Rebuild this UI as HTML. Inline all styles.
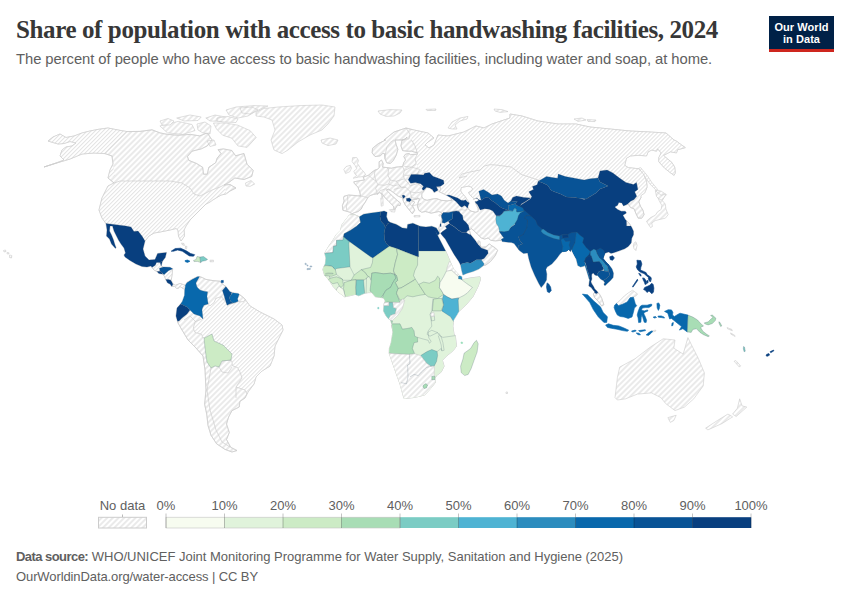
<!DOCTYPE html>
<html><head><meta charset="utf-8">
<style>
html,body{margin:0;padding:0;background:#fff;}
body{width:850px;height:600px;position:relative;overflow:hidden;font-family:"Liberation Sans",sans-serif;}
.abs{position:absolute;white-space:nowrap;}
#title{left:16px;top:15.5px;font-family:"Liberation Serif",serif;font-weight:bold;font-size:25px;line-height:28px;color:#373737;letter-spacing:-0.39px;}
#sub{left:16px;top:49.5px;font-size:14.8px;line-height:18px;color:#606060;letter-spacing:-0.06px;}
#logo{left:769px;top:16px;width:65px;height:36px;background:#002147;}
#logo .bar{position:absolute;left:0;right:0;bottom:0;height:3px;background:#ce261e;}
#logo div.t{position:absolute;left:0;width:65px;text-align:center;color:#fff;font-weight:bold;font-size:11px;line-height:12px;letter-spacing:0.05px;}
#f1{left:16px;top:548.5px;font-size:13px;line-height:16px;color:#606060;letter-spacing:-0.015px;}
#f1 b{letter-spacing:-0.55px;}
#f2{left:16px;top:569px;font-size:13px;line-height:16px;color:#606060;letter-spacing:-0.1px;}
svg{position:absolute;left:0;top:0;}
svg text{font-family:"Liberation Sans",sans-serif;font-size:13px;fill:#606060;}
</style></head><body>
<div id="title" class="abs">Share of population with access to basic handwashing facilities, 2024</div>
<div id="sub" class="abs">The percent of people who have access to basic handwashing facilities, including water and soap, at home.</div>
<div id="logo" class="abs"><div class="t" style="top:5px">Our World</div><div class="t" style="top:17px">in Data</div><div class="bar"></div></div>
<div id="f1" class="abs"><b>Data source:</b> WHO/UNICEF Joint Monitoring Programme for Water Supply, Sanitation and Hygiene (2025)</div>
<div id="f2" class="abs">OurWorldinData.org/water-access | CC BY</div>
<svg width="850" height="600" viewBox="0 0 850 600">
<defs>
<pattern id="h" patternUnits="userSpaceOnUse" width="4" height="4" patternTransform="rotate(45)"><rect width="4" height="4" fill="#fff"/><line x1="2" y1="0" x2="2" y2="4" stroke="#dbdbdb" stroke-width="1.15"/></pattern>
<pattern id="hd" patternUnits="userSpaceOnUse" width="2.83" height="2.83" patternTransform="rotate(45)"><rect width="2.83" height="2.83" fill="#fff"/><line x1="1.4" y1="0" x2="1.4" y2="2.83" stroke="#dbdbdb" stroke-width="0.8"/></pattern>
</defs>
<g id="map" stroke-linejoin="round">
<defs>
<clipPath id="clip-na"><path d="M48.0 141.0 L53.0 137.0 L60.0 134.0 L66.0 137.5 L74.0 136.0 L82.0 133.0 L90.0 131.0 L98.0 129.4 L108.0 128.0 L118.0 130.0 L127.0 131.6 L140.0 131.4 L152.0 129.8 L160.0 132.9 L167.5 134.4 L178.0 135.2 L190.5 134.4 L199.7 135.9 L207.3 132.9 L211.9 139.8 L207.3 145.9 L201.2 148.9 L192.0 151.2 L187.4 156.6 L188.9 160.4 L196.6 163.5 L202.7 167.3 L203.5 174.2 L207.3 174.2 L208.8 167.3 L215.7 162.7 L217.2 158.1 L221.0 153.5 L218.0 149.7 L223.4 148.9 L231.8 150.5 L235.6 155.8 L244.0 153.5 L247.0 164.2 L253.2 170.4 L251.7 176.5 L244.0 179.5 L234.8 178.0 L228.7 182.6 L224.0 185.0 L230.0 184.5 L236.0 188.0 L230.0 191.0 L226.0 194.0 L221.0 195.0 L216.0 198.0 L212.0 200.5 L210.0 202.0 L206.0 204.0 L202.0 208.0 L200.0 210.0 L196.0 214.0 L190.0 220.0 L186.0 226.0 L184.0 230.0 L184.5 236.0 L181.0 241.0 L178.5 236.0 L178.0 230.0 L176.0 228.5 L170.0 230.0 L160.0 232.0 L154.0 233.0 L149.0 236.0 L145.0 241.0 L143.0 249.0 L145.0 256.0 L149.0 260.0 L155.0 259.6 L157.6 253.5 L166.5 252.4 L165.3 257.6 L162.4 261.2 L161.2 265.9 L163.5 267.0 L170.0 267.3 L172.7 268.8 L172.0 275.0 L171.2 280.6 L173.0 284.0 L175.3 285.3 L180.0 283.5 L183.5 284.7 L185.3 285.3 L185.3 287.0 L183.5 288.8 L180.0 286.5 L178.2 288.2 L176.5 288.2 L174.7 286.5 L171.8 286.5 L170.0 284.0 L167.6 283.0 L166.0 280.0 L164.0 275.3 L161.8 274.0 L158.8 273.5 L157.0 271.5 L154.0 270.0 L153.0 269.0 L151.0 266.0 L147.0 267.0 L142.0 266.5 L136.0 264.0 L130.0 260.5 L125.0 257.0 L124.0 255.0 L125.5 253.0 L124.0 248.0 L121.0 244.0 L118.5 240.0 L116.5 236.0 L114.0 231.0 L112.5 226.0 L110.0 226.0 L109.5 231.0 L111.5 235.0 L113.5 240.0 L115.0 245.0 L116.0 247.5 L115.5 248.4 L111.5 244.0 L109.5 239.0 L106.5 236.0 L107.0 230.0 L106.0 223.6 L102.0 218.0 L99.0 210.0 L102.0 198.0 L108.0 186.0 L114.0 183.0 L108.0 178.0 L110.0 170.0 L113.0 164.0 L112.0 156.0 L105.0 153.6 L94.0 153.0 L82.0 154.0 L70.0 159.0 L60.0 162.0 L44.0 167.0 L56.0 163.0 L64.0 160.0 L60.0 156.0 L62.0 150.0 L66.0 147.0 L72.0 146.0 L76.0 143.0 L70.0 141.5 L64.0 143.5 L58.0 144.0Z" clip-rule="evenodd"/></clipPath>
<clipPath id="clip-sa"><path d="M185.3 285.3 L187.0 282.4 L191.8 279.4 L197.6 276.5 L199.8 276.7 L202.4 277.6 L205.9 279.4 L213.0 280.6 L220.0 281.2 L222.4 284.0 L225.9 286.5 L230.0 291.8 L234.0 293.0 L238.2 293.5 L244.0 298.0 L250.0 306.0 L260.0 312.0 L274.0 319.0 L282.0 325.0 L283.0 330.0 L279.0 338.0 L275.0 346.0 L274.0 356.0 L270.0 366.0 L262.0 371.0 L256.0 377.0 L254.0 384.0 L248.0 392.0 L245.0 398.0 L239.9 401.4 L239.2 407.0 L232.0 410.6 L228.6 417.0 L226.5 424.0 L229.3 432.5 L226.5 439.5 L230.7 447.3 L237.0 450.5 L232.0 452.0 L225.0 449.4 L216.6 443.8 L211.0 435.3 L208.0 425.4 L206.7 414.0 L204.6 404.2 L206.0 390.0 L205.0 370.0 L203.0 356.0 L196.0 348.0 L188.0 340.0 L182.0 330.0 L178.0 323.0 L176.0 316.0 L177.0 308.0 L180.6 304.0 L182.4 301.2 L184.5 295.3 L184.7 289.4 L185.3 287.0Z" clip-rule="evenodd"/></clipPath>
<clipPath id="clip-af"><path d="M349.4 215.0 L354.1 214.4 L359.4 216.8 L363.5 214.2 L369.4 213.2 L376.5 212.3 L380.6 211.8 L384.1 211.1 L387.1 212.3 L386.5 216.8 L388.2 220.9 L390.6 222.6 L396.5 224.4 L402.4 227.9 L407.1 228.5 L407.6 224.4 L412.9 223.2 L418.2 225.6 L420.0 226.2 L425.9 227.0 L431.8 226.2 L436.5 227.9 L439.8 233.2 L437.6 235.8 L435.1 230.6 L445.3 250.3 L448.2 256.8 L450.6 262.6 L453.5 269.1 L459.4 275.4 L461.8 276.8 L462.1 279.7 L470.6 277.9 L480.0 276.8 L480.6 279.1 L478.2 286.2 L472.9 296.8 L465.9 305.0 L458.8 311.5 L456.5 315.6 L453.5 320.3 L452.9 326.2 L454.1 335.0 L455.3 335.6 L456.5 346.2 L452.9 350.9 L447.1 355.6 L442.4 360.3 L444.1 366.2 L441.2 372.1 L436.5 375.6 L435.3 377.9 L435.3 382.6 L430.6 388.5 L424.7 395.0 L414.0 397.5 L404.0 398.5 L400.0 384.0 L395.0 370.0 L389.2 353.2 L389.4 348.5 L391.2 342.6 L392.9 332.1 L391.8 325.0 L392.9 330.9 L391.8 323.8 L390.6 320.3 L388.2 318.5 L385.9 315.6 L383.5 310.9 L384.1 303.8 L385.3 300.9 L383.5 297.9 L380.0 297.4 L375.3 296.8 L371.8 292.6 L368.2 292.6 L364.7 293.2 L358.8 295.8 L355.3 294.4 L350.6 295.6 L344.7 296.8 L337.6 291.5 L332.9 286.2 L330.0 281.5 L327.1 277.9 L324.7 275.6 L322.9 269.7 L323.5 267.4 L325.3 263.8 L325.9 257.9 L324.7 253.2 L328.8 246.2 L332.9 240.3 L336.5 234.4 L340.6 230.3 L341.8 225.0 L345.3 220.3Z" clip-rule="evenodd"/></clipPath>
<clipPath id="clip-ea"><path d="M439.7 232.6 L438.8 228.2 L439.7 225.6 L440.8 222.6 L441.6 219.7 L441.4 215.0 L441.8 213.8 L440.6 212.1 L438.8 211.5 L435.3 212.3 L431.2 213.2 L427.6 212.1 L425.3 211.5 L421.8 212.3 L418.8 210.3 L417.4 206.2 L418.2 202.1 L419.4 199.7 L418.8 198.5 L417.6 197.9 L417.1 199.1 L411.2 200.3 L414.7 202.1 L412.4 205.6 L414.7 210.3 L412.4 213.8 L407.6 207.9 L405.3 205.0 L403.5 201.5 L402.4 197.9 L398.2 196.2 L393.5 192.6 L388.8 189.1 L386.5 190.1 L391.2 195.0 L397.1 200.3 L400.6 203.2 L400.0 205.6 L397.6 205.0 L395.9 207.9 L394.1 210.3 L393.5 206.2 L388.8 201.5 L385.3 197.9 L381.8 193.8 L379.4 192.6 L377.1 193.8 L373.5 194.4 L370.0 195.6 L367.6 197.9 L365.3 202.1 L362.9 205.6 L361.2 209.1 L358.2 211.5 L354.7 212.6 L351.8 213.8 L349.4 212.1 L345.3 210.9 L342.9 210.3 L342.4 205.6 L344.1 200.9 L343.5 197.9 L344.1 196.2 L348.8 195.0 L355.9 195.6 L360.6 196.2 L359.7 191.8 L357.9 187.1 L354.4 183.5 L353.8 181.8 L360.3 180.6 L364.4 180.0 L363.2 177.1 L368.5 175.3 L370.9 172.9 L375.0 170.0 L377.4 169.4 L379.1 167.6 L379.1 161.8 L381.5 160.0 L383.2 163.5 L382.6 167.1 L386.8 167.6 L391.5 168.2 L396.2 167.1 L402.6 166.5 L403.8 162.4 L405.6 160.0 L403.8 156.5 L405.6 154.1 L409.1 153.5 L410.3 154.7 L417.4 154.1 L417.4 152.9 L411.5 151.2 L406.8 151.2 L402.6 150.6 L400.9 145.9 L402.1 140.0 L405.0 139.0 L407.0 137.0 L404.4 140.0 L395.0 140.0 L396.2 144.7 L397.9 149.4 L396.2 155.3 L393.2 160.6 L390.3 163.5 L386.8 162.9 L385.0 158.8 L384.4 153.5 L382.6 153.5 L380.3 155.9 L375.0 156.5 L372.1 152.9 L372.6 148.2 L378.5 143.5 L385.6 140.0 L384.0 140.0 L394.0 132.0 L406.0 128.0 L414.0 130.0 L428.0 133.0 L434.0 138.0 L428.0 142.0 L425.0 145.0 L429.0 148.0 L434.0 145.0 L436.0 140.0 L438.0 135.0 L448.0 136.0 L464.0 132.0 L476.0 126.0 L484.0 128.0 L492.0 124.0 L510.0 118.0 L510.0 114.0 L522.0 116.0 L538.0 121.0 L558.0 124.0 L576.0 124.0 L590.0 127.0 L610.0 129.0 L630.0 131.0 L650.0 132.0 L666.0 133.0 L674.0 140.0 L676.5 141.2 L681.2 144.7 L685.3 147.6 L682.4 148.5 L677.6 149.6 L676.5 152.9 L670.6 151.8 L663.5 155.3 L665.9 157.6 L671.8 162.4 L674.7 167.1 L675.3 172.9 L674.1 175.3 L670.6 172.9 L664.7 168.2 L658.8 161.8 L658.8 157.6 L661.2 152.9 L657.6 148.8 L656.5 151.2 L651.8 150.0 L648.2 151.8 L646.5 155.9 L638.8 155.3 L630.6 155.9 L626.5 158.2 L624.7 165.3 L628.2 167.6 L638.8 168.8 L643.5 174.1 L646.5 181.2 L647.1 187.1 L644.7 192.9 L640.6 195.9 L641.2 197.1 L638.8 201.8 L640.6 206.5 L642.9 210.0 L644.1 214.7 L641.8 218.2 L638.2 218.2 L635.9 213.5 L634.1 208.8 L630.6 207.6 L628.2 204.1 L623.5 205.9 L621.8 202.9 L618.8 202.4 L617.6 205.3 L614.7 207.1 L617.6 209.4 L621.2 211.2 L625.3 211.2 L626.5 212.9 L622.9 215.3 L625.3 219.4 L629.4 223.5 L631.8 227.6 L633.5 231.2 L633.5 234.7 L631.8 238.2 L631.2 242.9 L628.2 246.5 L624.7 248.8 L620.0 250.6 L616.5 251.8 L612.9 252.9 L610.9 253.2 L608.5 252.1 L605.0 253.2 L603.2 258.5 L606.1 262.1 L609.6 265.6 L612.1 269.1 L613.5 273.3 L613.1 277.6 L610.3 280.8 L607.5 283.2 L605.0 285.7 L603.9 284.6 L604.6 282.5 L603.2 280.4 L600.8 279.3 L599.0 277.2 L597.6 275.5 L596.5 275.5 L594.8 275.1 L593.7 273.3 L591.9 273.7 L591.6 276.2 L591.9 279.0 L590.9 281.8 L591.9 283.9 L593.3 286.1 L594.8 288.9 L596.9 291.0 L597.9 292.4 L599.7 294.5 L601.1 297.0 L601.8 298.4 L603.9 304.7 L601.8 306.1 L598.2 301.2 L594.7 297.6 L593.3 294.1 L594.8 292.1 L593.0 289.9 L591.2 287.5 L588.8 286.1 L589.1 283.2 L589.8 279.7 L589.1 279.0 L588.1 275.5 L587.0 271.9 L585.9 268.4 L584.9 265.6 L583.5 266.3 L580.6 267.0 L577.8 265.6 L577.4 263.8 L576.2 259.1 L573.2 253.2 L570.9 248.5 L570.6 251.8 L568.8 249.4 L566.5 251.2 L562.4 251.8 L560.0 254.1 L556.5 258.8 L551.8 264.1 L547.1 267.1 L545.9 269.4 L546.8 274.1 L546.5 280.0 L544.1 284.1 L541.2 287.6 L538.8 283.5 L534.7 275.3 L531.2 267.1 L528.8 258.8 L527.6 252.9 L523.5 253.5 L519.4 250.6 L514.1 243.5 L511.5 242.6 L502.1 241.5 L501.5 239.1 L501.2 240.3 L495.3 240.9 L490.6 240.3 L488.2 237.9 L484.7 239.1 L481.2 237.9 L477.6 234.4 L474.1 230.9 L471.2 228.5 L469.4 230.3 L470.6 234.4 L475.3 240.3 L477.6 243.8 L478.2 240.9 L480.0 241.5 L480.0 244.4 L481.2 247.4 L485.9 246.8 L489.4 243.8 L490.6 245.0 L495.3 247.9 L497.6 250.3 L495.3 255.6 L490.6 261.5 L485.9 265.0 L483.5 265.6 L478.8 269.1 L472.9 271.5 L467.1 273.2 L462.9 275.0 L461.8 270.9 L460.6 265.0 L458.8 261.5 L454.1 254.4 L449.4 246.2 L445.3 239.1 L441.8 235.0 L440.6 233.2ZM421.8 193.8 L424.7 190.3 L426.5 187.4 L429.4 187.9 L432.4 189.7 L434.1 192.6 L438.2 190.3 L436.5 186.8 L440.6 187.4 L440.6 190.3 L438.8 191.5 L442.4 193.2 L447.1 195.6 L450.6 197.9 L451.8 200.3 L447.1 200.9 L441.2 200.3 L436.5 198.5 L431.8 199.1 L427.1 200.3 L423.5 199.1 L421.8 196.8ZM461.2 187.6 L464.0 186.9 L468.2 186.2 L471.1 186.9 L472.8 189.0 L471.1 191.1 L468.6 192.4 L469.6 194.5 L472.1 196.8 L474.2 198.9 L473.7 199.5 L475.3 198.3 L477.4 198.5 L478.7 200.2 L476.7 201.6 L475.1 201.4 L475.6 203.3 L476.7 205.5 L478.1 208.6 L478.1 211.5 L475.3 212.2 L471.1 211.1 L468.2 209.0 L467.9 206.2 L469.3 203.1 L467.5 200.2 L465.1 196.6 L462.6 193.8 L460.6 191.0Z" clip-rule="evenodd"/></clipPath>
</defs>
<path d="M48.0 141.0 L53.0 137.0 L60.0 134.0 L66.0 137.5 L74.0 136.0 L82.0 133.0 L90.0 131.0 L98.0 129.4 L108.0 128.0 L118.0 130.0 L127.0 131.6 L140.0 131.4 L152.0 129.8 L160.0 132.9 L167.5 134.4 L178.0 135.2 L190.5 134.4 L199.7 135.9 L207.3 132.9 L211.9 139.8 L207.3 145.9 L201.2 148.9 L192.0 151.2 L187.4 156.6 L188.9 160.4 L196.6 163.5 L202.7 167.3 L203.5 174.2 L207.3 174.2 L208.8 167.3 L215.7 162.7 L217.2 158.1 L221.0 153.5 L218.0 149.7 L223.4 148.9 L231.8 150.5 L235.6 155.8 L244.0 153.5 L247.0 164.2 L253.2 170.4 L251.7 176.5 L244.0 179.5 L234.8 178.0 L228.7 182.6 L224.0 185.0 L230.0 184.5 L236.0 188.0 L230.0 191.0 L226.0 194.0 L221.0 195.0 L216.0 198.0 L212.0 200.5 L210.0 202.0 L206.0 204.0 L202.0 208.0 L200.0 210.0 L196.0 214.0 L190.0 220.0 L186.0 226.0 L184.0 230.0 L184.5 236.0 L181.0 241.0 L178.5 236.0 L178.0 230.0 L176.0 228.5 L170.0 230.0 L160.0 232.0 L154.0 233.0 L149.0 236.0 L145.0 241.0 L143.0 249.0 L145.0 256.0 L149.0 260.0 L155.0 259.6 L157.6 253.5 L166.5 252.4 L165.3 257.6 L162.4 261.2 L161.2 265.9 L163.5 267.0 L170.0 267.3 L172.7 268.8 L172.0 275.0 L171.2 280.6 L173.0 284.0 L175.3 285.3 L180.0 283.5 L183.5 284.7 L185.3 285.3 L185.3 287.0 L183.5 288.8 L180.0 286.5 L178.2 288.2 L176.5 288.2 L174.7 286.5 L171.8 286.5 L170.0 284.0 L167.6 283.0 L166.0 280.0 L164.0 275.3 L161.8 274.0 L158.8 273.5 L157.0 271.5 L154.0 270.0 L153.0 269.0 L151.0 266.0 L147.0 267.0 L142.0 266.5 L136.0 264.0 L130.0 260.5 L125.0 257.0 L124.0 255.0 L125.5 253.0 L124.0 248.0 L121.0 244.0 L118.5 240.0 L116.5 236.0 L114.0 231.0 L112.5 226.0 L110.0 226.0 L109.5 231.0 L111.5 235.0 L113.5 240.0 L115.0 245.0 L116.0 247.5 L115.5 248.4 L111.5 244.0 L109.5 239.0 L106.5 236.0 L107.0 230.0 L106.0 223.6 L102.0 218.0 L99.0 210.0 L102.0 198.0 L108.0 186.0 L114.0 183.0 L108.0 178.0 L110.0 170.0 L113.0 164.0 L112.0 156.0 L105.0 153.6 L94.0 153.0 L82.0 154.0 L70.0 159.0 L60.0 162.0 L44.0 167.0 L56.0 163.0 L64.0 160.0 L60.0 156.0 L62.0 150.0 L66.0 147.0 L72.0 146.0 L76.0 143.0 L70.0 141.5 L64.0 143.5 L58.0 144.0Z" fill="url(#h)" fill-rule="evenodd" stroke="#cbcbcb" stroke-width="0.6"/>
<path d="M185.3 285.3 L187.0 282.4 L191.8 279.4 L197.6 276.5 L199.8 276.7 L202.4 277.6 L205.9 279.4 L213.0 280.6 L220.0 281.2 L222.4 284.0 L225.9 286.5 L230.0 291.8 L234.0 293.0 L238.2 293.5 L244.0 298.0 L250.0 306.0 L260.0 312.0 L274.0 319.0 L282.0 325.0 L283.0 330.0 L279.0 338.0 L275.0 346.0 L274.0 356.0 L270.0 366.0 L262.0 371.0 L256.0 377.0 L254.0 384.0 L248.0 392.0 L245.0 398.0 L239.9 401.4 L239.2 407.0 L232.0 410.6 L228.6 417.0 L226.5 424.0 L229.3 432.5 L226.5 439.5 L230.7 447.3 L237.0 450.5 L232.0 452.0 L225.0 449.4 L216.6 443.8 L211.0 435.3 L208.0 425.4 L206.7 414.0 L204.6 404.2 L206.0 390.0 L205.0 370.0 L203.0 356.0 L196.0 348.0 L188.0 340.0 L182.0 330.0 L178.0 323.0 L176.0 316.0 L177.0 308.0 L180.6 304.0 L182.4 301.2 L184.5 295.3 L184.7 289.4 L185.3 287.0Z" fill="url(#h)" fill-rule="evenodd" stroke="#cbcbcb" stroke-width="0.6"/>
<path d="M349.4 215.0 L354.1 214.4 L359.4 216.8 L363.5 214.2 L369.4 213.2 L376.5 212.3 L380.6 211.8 L384.1 211.1 L387.1 212.3 L386.5 216.8 L388.2 220.9 L390.6 222.6 L396.5 224.4 L402.4 227.9 L407.1 228.5 L407.6 224.4 L412.9 223.2 L418.2 225.6 L420.0 226.2 L425.9 227.0 L431.8 226.2 L436.5 227.9 L439.8 233.2 L437.6 235.8 L435.1 230.6 L445.3 250.3 L448.2 256.8 L450.6 262.6 L453.5 269.1 L459.4 275.4 L461.8 276.8 L462.1 279.7 L470.6 277.9 L480.0 276.8 L480.6 279.1 L478.2 286.2 L472.9 296.8 L465.9 305.0 L458.8 311.5 L456.5 315.6 L453.5 320.3 L452.9 326.2 L454.1 335.0 L455.3 335.6 L456.5 346.2 L452.9 350.9 L447.1 355.6 L442.4 360.3 L444.1 366.2 L441.2 372.1 L436.5 375.6 L435.3 377.9 L435.3 382.6 L430.6 388.5 L424.7 395.0 L414.0 397.5 L404.0 398.5 L400.0 384.0 L395.0 370.0 L389.2 353.2 L389.4 348.5 L391.2 342.6 L392.9 332.1 L391.8 325.0 L392.9 330.9 L391.8 323.8 L390.6 320.3 L388.2 318.5 L385.9 315.6 L383.5 310.9 L384.1 303.8 L385.3 300.9 L383.5 297.9 L380.0 297.4 L375.3 296.8 L371.8 292.6 L368.2 292.6 L364.7 293.2 L358.8 295.8 L355.3 294.4 L350.6 295.6 L344.7 296.8 L337.6 291.5 L332.9 286.2 L330.0 281.5 L327.1 277.9 L324.7 275.6 L322.9 269.7 L323.5 267.4 L325.3 263.8 L325.9 257.9 L324.7 253.2 L328.8 246.2 L332.9 240.3 L336.5 234.4 L340.6 230.3 L341.8 225.0 L345.3 220.3Z" fill="url(#h)" fill-rule="evenodd" stroke="#cbcbcb" stroke-width="0.6"/>
<path d="M439.7 232.6 L438.8 228.2 L439.7 225.6 L440.8 222.6 L441.6 219.7 L441.4 215.0 L441.8 213.8 L440.6 212.1 L438.8 211.5 L435.3 212.3 L431.2 213.2 L427.6 212.1 L425.3 211.5 L421.8 212.3 L418.8 210.3 L417.4 206.2 L418.2 202.1 L419.4 199.7 L418.8 198.5 L417.6 197.9 L417.1 199.1 L411.2 200.3 L414.7 202.1 L412.4 205.6 L414.7 210.3 L412.4 213.8 L407.6 207.9 L405.3 205.0 L403.5 201.5 L402.4 197.9 L398.2 196.2 L393.5 192.6 L388.8 189.1 L386.5 190.1 L391.2 195.0 L397.1 200.3 L400.6 203.2 L400.0 205.6 L397.6 205.0 L395.9 207.9 L394.1 210.3 L393.5 206.2 L388.8 201.5 L385.3 197.9 L381.8 193.8 L379.4 192.6 L377.1 193.8 L373.5 194.4 L370.0 195.6 L367.6 197.9 L365.3 202.1 L362.9 205.6 L361.2 209.1 L358.2 211.5 L354.7 212.6 L351.8 213.8 L349.4 212.1 L345.3 210.9 L342.9 210.3 L342.4 205.6 L344.1 200.9 L343.5 197.9 L344.1 196.2 L348.8 195.0 L355.9 195.6 L360.6 196.2 L359.7 191.8 L357.9 187.1 L354.4 183.5 L353.8 181.8 L360.3 180.6 L364.4 180.0 L363.2 177.1 L368.5 175.3 L370.9 172.9 L375.0 170.0 L377.4 169.4 L379.1 167.6 L379.1 161.8 L381.5 160.0 L383.2 163.5 L382.6 167.1 L386.8 167.6 L391.5 168.2 L396.2 167.1 L402.6 166.5 L403.8 162.4 L405.6 160.0 L403.8 156.5 L405.6 154.1 L409.1 153.5 L410.3 154.7 L417.4 154.1 L417.4 152.9 L411.5 151.2 L406.8 151.2 L402.6 150.6 L400.9 145.9 L402.1 140.0 L405.0 139.0 L407.0 137.0 L404.4 140.0 L395.0 140.0 L396.2 144.7 L397.9 149.4 L396.2 155.3 L393.2 160.6 L390.3 163.5 L386.8 162.9 L385.0 158.8 L384.4 153.5 L382.6 153.5 L380.3 155.9 L375.0 156.5 L372.1 152.9 L372.6 148.2 L378.5 143.5 L385.6 140.0 L384.0 140.0 L394.0 132.0 L406.0 128.0 L414.0 130.0 L428.0 133.0 L434.0 138.0 L428.0 142.0 L425.0 145.0 L429.0 148.0 L434.0 145.0 L436.0 140.0 L438.0 135.0 L448.0 136.0 L464.0 132.0 L476.0 126.0 L484.0 128.0 L492.0 124.0 L510.0 118.0 L510.0 114.0 L522.0 116.0 L538.0 121.0 L558.0 124.0 L576.0 124.0 L590.0 127.0 L610.0 129.0 L630.0 131.0 L650.0 132.0 L666.0 133.0 L674.0 140.0 L676.5 141.2 L681.2 144.7 L685.3 147.6 L682.4 148.5 L677.6 149.6 L676.5 152.9 L670.6 151.8 L663.5 155.3 L665.9 157.6 L671.8 162.4 L674.7 167.1 L675.3 172.9 L674.1 175.3 L670.6 172.9 L664.7 168.2 L658.8 161.8 L658.8 157.6 L661.2 152.9 L657.6 148.8 L656.5 151.2 L651.8 150.0 L648.2 151.8 L646.5 155.9 L638.8 155.3 L630.6 155.9 L626.5 158.2 L624.7 165.3 L628.2 167.6 L638.8 168.8 L643.5 174.1 L646.5 181.2 L647.1 187.1 L644.7 192.9 L640.6 195.9 L641.2 197.1 L638.8 201.8 L640.6 206.5 L642.9 210.0 L644.1 214.7 L641.8 218.2 L638.2 218.2 L635.9 213.5 L634.1 208.8 L630.6 207.6 L628.2 204.1 L623.5 205.9 L621.8 202.9 L618.8 202.4 L617.6 205.3 L614.7 207.1 L617.6 209.4 L621.2 211.2 L625.3 211.2 L626.5 212.9 L622.9 215.3 L625.3 219.4 L629.4 223.5 L631.8 227.6 L633.5 231.2 L633.5 234.7 L631.8 238.2 L631.2 242.9 L628.2 246.5 L624.7 248.8 L620.0 250.6 L616.5 251.8 L612.9 252.9 L610.9 253.2 L608.5 252.1 L605.0 253.2 L603.2 258.5 L606.1 262.1 L609.6 265.6 L612.1 269.1 L613.5 273.3 L613.1 277.6 L610.3 280.8 L607.5 283.2 L605.0 285.7 L603.9 284.6 L604.6 282.5 L603.2 280.4 L600.8 279.3 L599.0 277.2 L597.6 275.5 L596.5 275.5 L594.8 275.1 L593.7 273.3 L591.9 273.7 L591.6 276.2 L591.9 279.0 L590.9 281.8 L591.9 283.9 L593.3 286.1 L594.8 288.9 L596.9 291.0 L597.9 292.4 L599.7 294.5 L601.1 297.0 L601.8 298.4 L603.9 304.7 L601.8 306.1 L598.2 301.2 L594.7 297.6 L593.3 294.1 L594.8 292.1 L593.0 289.9 L591.2 287.5 L588.8 286.1 L589.1 283.2 L589.8 279.7 L589.1 279.0 L588.1 275.5 L587.0 271.9 L585.9 268.4 L584.9 265.6 L583.5 266.3 L580.6 267.0 L577.8 265.6 L577.4 263.8 L576.2 259.1 L573.2 253.2 L570.9 248.5 L570.6 251.8 L568.8 249.4 L566.5 251.2 L562.4 251.8 L560.0 254.1 L556.5 258.8 L551.8 264.1 L547.1 267.1 L545.9 269.4 L546.8 274.1 L546.5 280.0 L544.1 284.1 L541.2 287.6 L538.8 283.5 L534.7 275.3 L531.2 267.1 L528.8 258.8 L527.6 252.9 L523.5 253.5 L519.4 250.6 L514.1 243.5 L511.5 242.6 L502.1 241.5 L501.5 239.1 L501.2 240.3 L495.3 240.9 L490.6 240.3 L488.2 237.9 L484.7 239.1 L481.2 237.9 L477.6 234.4 L474.1 230.9 L471.2 228.5 L469.4 230.3 L470.6 234.4 L475.3 240.3 L477.6 243.8 L478.2 240.9 L480.0 241.5 L480.0 244.4 L481.2 247.4 L485.9 246.8 L489.4 243.8 L490.6 245.0 L495.3 247.9 L497.6 250.3 L495.3 255.6 L490.6 261.5 L485.9 265.0 L483.5 265.6 L478.8 269.1 L472.9 271.5 L467.1 273.2 L462.9 275.0 L461.8 270.9 L460.6 265.0 L458.8 261.5 L454.1 254.4 L449.4 246.2 L445.3 239.1 L441.8 235.0 L440.6 233.2ZM421.8 193.8 L424.7 190.3 L426.5 187.4 L429.4 187.9 L432.4 189.7 L434.1 192.6 L438.2 190.3 L436.5 186.8 L440.6 187.4 L440.6 190.3 L438.8 191.5 L442.4 193.2 L447.1 195.6 L450.6 197.9 L451.8 200.3 L447.1 200.9 L441.2 200.3 L436.5 198.5 L431.8 199.1 L427.1 200.3 L423.5 199.1 L421.8 196.8ZM461.2 187.6 L464.0 186.9 L468.2 186.2 L471.1 186.9 L472.8 189.0 L471.1 191.1 L468.6 192.4 L469.6 194.5 L472.1 196.8 L474.2 198.9 L473.7 199.5 L475.3 198.3 L477.4 198.5 L478.7 200.2 L476.7 201.6 L475.1 201.4 L475.6 203.3 L476.7 205.5 L478.1 208.6 L478.1 211.5 L475.3 212.2 L471.1 211.1 L468.2 209.0 L467.9 206.2 L469.3 203.1 L467.5 200.2 L465.1 196.6 L462.6 193.8 L460.6 191.0Z" fill="url(#h)" fill-rule="evenodd" stroke="#cbcbcb" stroke-width="0.6"/>
<path d="M256.0 112.0 L264.0 108.5 L278.0 107.0 L300.0 105.6 L322.0 105.0 L335.0 107.0 L334.0 116.0 L328.0 124.0 L322.0 130.0 L310.0 135.0 L298.0 142.0 L288.0 150.0 L282.0 153.6 L274.0 150.0 L271.0 140.0 L275.0 130.0 L272.0 120.0 L264.0 117.0 L256.0 116.0Z" fill="url(#h)" stroke="#cbcbcb" stroke-width="0.6"/>
<path d="M321.0 140.0 L330.0 138.0 L338.0 140.0 L336.0 144.0 L328.0 145.6 L322.0 143.0Z" fill="url(#h)" stroke="#cbcbcb" stroke-width="0.6"/>
<path d="M226.0 110.0 L236.0 107.0 L254.0 105.6 L268.0 106.0 L256.0 111.0 L248.0 116.0 L238.0 118.0 L229.0 115.0Z" fill="url(#h)" stroke="#cbcbcb" stroke-width="0.6"/>
<path d="M213.4 123.0 L225.7 123.0 L237.9 125.2 L250.1 130.6 L256.2 137.5 L247.1 147.4 L237.9 145.9 L231.8 138.2 L222.6 135.2 L216.5 129.0Z" fill="url(#h)" stroke="#cbcbcb" stroke-width="0.6"/>
<path d="M159.9 126.0 L178.2 121.4 L192.0 124.5 L195.0 130.6 L182.8 134.4 L167.5 132.9Z" fill="url(#h)" stroke="#cbcbcb" stroke-width="0.6"/>
<path d="M176.7 118.0 L190.0 115.0 L201.2 117.0 L198.0 120.5 L184.0 121.0Z" fill="url(#h)" stroke="#cbcbcb" stroke-width="0.6"/>
<path d="M205.8 118.0 L215.0 115.0 L225.7 117.0 L222.0 121.4 L210.0 121.0Z" fill="url(#h)" stroke="#cbcbcb" stroke-width="0.6"/>
<path d="M245.5 183.0 L251.0 180.5 L254.7 184.0 L250.0 186.4 L246.0 186.0Z" fill="url(#h)" stroke="#cbcbcb" stroke-width="0.6"/>
<path d="M207.0 141.0 L214.0 140.0 L216.0 145.0 L210.0 146.5Z" fill="url(#h)" stroke="#cbcbcb" stroke-width="0.6"/>
<path d="M210.0 260.2 L213.5 260.2 L213.5 261.8 L210.0 261.8Z" fill="url(#h)" stroke="#cbcbcb" stroke-width="0.6"/>
<path d="M634.1 242.9 L635.9 241.8 L637.1 245.3 L635.9 250.6 L634.1 248.8 L633.3 245.9Z" fill="url(#h)" stroke="#cbcbcb" stroke-width="0.6"/>
<path d="M655.9 190.0 L661.2 191.2 L666.5 194.7 L664.1 197.1 L662.4 200.6 L665.3 204.1 L665.9 208.8 L668.2 214.7 L665.3 218.2 L660.0 219.4 L655.3 220.6 L651.8 222.9 L652.4 226.5 L650.6 227.6 L648.2 224.1 L646.5 221.2 L650.6 217.6 L655.3 215.3 L657.6 211.8 L661.2 209.4 L661.8 205.3 L659.4 201.2 L657.6 197.1 L656.5 193.5Z" fill="url(#h)" stroke="#cbcbcb" stroke-width="0.6"/>
<path d="M655.3 190.6 L661.2 195.3 L665.9 194.1 L664.1 197.6 L661.2 200.0 L658.8 198.8 L656.5 196.5Z" fill="url(#h)" stroke="#cbcbcb" stroke-width="0.6"/>
<path d="M638.8 168.2 L640.6 167.6 L647.1 175.3 L651.8 182.4 L657.6 189.4 L656.5 190.6 L650.6 184.7 L645.3 177.6Z" fill="url(#hd)" stroke="#cbcbcb" stroke-width="0.6"/>
<path d="M651.6 331.1 L655.5 330.0 L656.0 330.9 L652.7 332.1Z" fill="url(#h)" stroke="#cbcbcb" stroke-width="0.6"/>
<path d="M618.4 305.7 L616.5 303.4 L619.8 300.5 L624.5 295.8 L628.2 293.0 L632.5 290.2 L637.6 293.9 L636.2 295.8 L633.4 297.2 L630.1 297.7 L627.3 301.9 L622.6 304.3Z" fill="url(#h)" stroke="#cbcbcb" stroke-width="0.6"/>
<path d="M734.1 361.2 L735.9 360.6 L740.6 365.9 L739.4 367.1Z" fill="url(#h)" stroke="#cbcbcb" stroke-width="0.6"/>
<path d="M727.1 327.6 L731.8 329.4 L732.4 330.8 L727.6 328.8Z" fill="url(#h)" stroke="#cbcbcb" stroke-width="0.6"/>
<path d="M730.6 332.9 L734.7 335.3 L735.1 336.5 L730.8 334.1Z" fill="url(#h)" stroke="#cbcbcb" stroke-width="0.6"/>
<path d="M352.6 157.6 L356.8 157.6 L358.5 160.6 L357.4 163.5 L361.5 169.4 L364.4 172.4 L365.6 174.7 L363.2 176.5 L358.5 177.1 L353.2 178.2 L356.8 175.3 L355.0 174.1 L353.8 171.2 L356.8 168.8 L355.0 165.3 L352.1 161.8Z" fill="url(#h)" stroke="#cbcbcb" stroke-width="0.6"/>
<path d="M343.8 169.4 L346.2 166.5 L350.3 165.3 L351.5 168.2 L349.7 171.8 L345.6 173.5Z" fill="url(#h)" stroke="#cbcbcb" stroke-width="0.6"/>
<path d="M389.4 209.7 L395.3 209.1 L394.7 212.1 L391.2 211.7Z" fill="url(#h)" stroke="#cbcbcb" stroke-width="0.6"/>
<path d="M380.8 197.9 L382.9 197.6 L383.2 205.6 L381.2 206.2Z" fill="url(#h)" stroke="#cbcbcb" stroke-width="0.6"/>
<path d="M381.5 193.8 L382.7 193.6 L382.9 196.8 L381.8 197.1Z" fill="url(#h)" stroke="#cbcbcb" stroke-width="0.6"/>
<path d="M414.1 215.6 L420.0 215.4 L420.0 216.8 L414.1 217.0Z" fill="url(#h)" stroke="#cbcbcb" stroke-width="0.6"/>
<path d="M438.8 215.0 L442.4 213.8 L442.6 215.0 L439.4 216.2Z" fill="url(#h)" stroke="#cbcbcb" stroke-width="0.6"/>
<path d="M448.0 128.0 L452.0 122.0 L460.0 118.0 L468.0 116.4 L467.0 119.0 L460.0 121.0 L455.0 125.0 L457.0 129.0 L452.0 129.0Z" fill="url(#hd)" stroke="#cbcbcb" stroke-width="0.6"/>
<path d="M378.0 111.0 L390.0 109.6 L402.0 110.0 L400.0 113.0 L394.0 116.0 L386.0 116.4 L380.0 114.0Z" fill="url(#h)" stroke="#cbcbcb" stroke-width="0.6"/>
<path d="M426.0 109.4 L436.0 109.0 L435.6 110.4 L427.0 110.6Z" fill="url(#h)" stroke="#cbcbcb" stroke-width="0.6"/>
<path d="M494.0 109.0 L502.0 109.6 L508.0 111.6 L500.0 112.4 L495.0 111.0Z" fill="url(#h)" stroke="#cbcbcb" stroke-width="0.6"/>
<path d="M574.0 119.0 L582.0 118.0 L586.0 120.0 L578.0 121.4Z" fill="url(#h)" stroke="#cbcbcb" stroke-width="0.6"/>
<path d="M587.0 119.6 L596.0 120.0 L595.0 121.6 L588.0 121.4Z" fill="url(#h)" stroke="#cbcbcb" stroke-width="0.6"/>
<path d="M615.0 397.6 L617.4 377.6 L619.7 367.1 L635.0 358.8 L650.3 347.1 L663.2 338.8 L675.0 340.0 L673.8 348.2 L683.2 354.1 L687.9 337.6 L692.6 347.1 L698.5 358.8 L704.4 372.9 L703.2 385.9 L693.8 398.8 L684.4 407.1 L675.0 410.6 L665.6 403.5 L660.9 397.6 L651.5 392.9 L637.4 394.1 L625.6 398.8 L617.4 400.0Z" fill="url(#h)" stroke="#cbcbcb" stroke-width="0.6"/>
<path d="M667.9 417.6 L676.2 415.3 L673.8 420.5 L670.3 422.4Z" fill="url(#h)" stroke="#cbcbcb" stroke-width="0.6"/>
<path d="M739.7 398.8 L742.1 405.9 L746.8 407.1 L736.2 416.5 L732.6 414.1 L737.4 408.2Z" fill="url(#h)" stroke="#cbcbcb" stroke-width="0.6"/>
<path d="M730.3 415.3 L732.6 416.9 L722.1 423.5 L707.9 429.9 L705.6 428.2 L717.4 420.5 L727.9 414.1Z" fill="url(#h)" stroke="#cbcbcb" stroke-width="0.6"/>
<path d="M197.0 124.0 L205.0 122.0 L211.0 126.0 L210.0 134.0 L203.0 133.0 L198.0 130.0Z" fill="url(#h)" stroke="#cbcbcb" stroke-width="0.6"/>
<path d="M217.0 118.0 L228.0 116.5 L238.0 119.0 L236.0 122.5 L224.0 122.0 L217.0 121.0Z" fill="url(#h)" stroke="#cbcbcb" stroke-width="0.6"/>
<path d="M240.0 108.0 L252.0 107.0 L258.0 110.0 L250.0 114.0 L242.0 113.0Z" fill="url(#h)" stroke="#cbcbcb" stroke-width="0.6"/>
<path d="M160.0 121.0 L168.0 118.5 L174.0 121.0 L170.0 125.0 L162.0 125.0Z" fill="url(#h)" stroke="#cbcbcb" stroke-width="0.6"/>
<path d="M3.5 250.5 L5.5 250.0 L6.0 251.5 L4.0 252.0Z" fill="url(#h)" stroke="#cbcbcb" stroke-width="0.6"/>
<path d="M7.0 252.5 L9.0 252.8 L8.8 254.0 L7.0 253.8Z" fill="url(#h)" stroke="#cbcbcb" stroke-width="0.6"/>
<path d="M9.5 255.0 L11.8 255.5 L11.5 258.0 L9.5 257.5Z" fill="url(#h)" stroke="#cbcbcb" stroke-width="0.6"/>
<path d="M181.5 243.0 L184.0 243.5 L184.5 245.5 L182.5 245.0Z" fill="url(#h)" stroke="#cbcbcb" stroke-width="0.6"/>
<path d="M185.5 246.0 L187.0 246.5 L186.5 249.0 L185.3 248.5Z" fill="url(#h)" stroke="#cbcbcb" stroke-width="0.6"/>
<path d="M506.0 392.0 L507.5 392.0 L507.5 393.5 L506.0 393.5Z" fill="url(#h)" stroke="#cbcbcb" stroke-width="0.6"/>
<g clip-path="url(#clip-na)">
<path d="M114.0 183.0 L120.0 181.0 L170.0 181.0 L182.0 183.0 L190.0 188.0 L194.0 194.0 L200.0 196.0 L206.0 193.0 L212.0 190.0 L220.0 187.0 L224.0 185.0 L226.0 192.0 L235.0 200.0 L240.0 300.0 L90.0 300.0 L90.0 183.0Z" fill="url(#hd)"/>
<path d="M127.0 126.0 L127.0 131.6 L105.0 153.6 L112.0 160.0 L115.0 176.0 L100.0 182.0 L30.0 182.0 L30.0 118.0Z" fill="url(#hd)"/>
</g>
<g clip-path="url(#clip-sa)">
<path d="M246.0 299.0 L250.0 290.0 L290.0 320.0 L290.0 350.0 L262.0 400.0 L247.0 394.0 L245.0 390.0 L236.0 387.0 L242.0 378.0 L240.0 372.0 L237.5 367.5 L232.5 365.8 L231.7 360.8 L231.0 360.0 L232.0 354.0 L229.0 351.0 L223.0 345.0 L214.0 341.0 L212.0 334.0 L204.2 337.5 L202.5 337.5 L201.7 334.2 L195.0 332.5 L193.3 328.3 L195.0 321.7 L201.7 319.2 L203.0 319.0 L202.0 310.0 L203.0 306.0 L207.5 303.3 L210.0 305.8 L214.2 302.5 L215.8 298.3 L221.7 296.7 L225.0 301.7 L227.5 305.0 L233.3 303.3 L238.3 301.7 L243.3 301.7Z" fill="url(#hd)"/>
</g>
<g clip-path="url(#clip-ea)">
<path d="M414.0 126.0 L411.5 140.0 L415.0 146.0 L417.4 153.0 L415.0 158.8 L416.2 163.5 L419.7 169.4 L424.0 171.0 L429.4 172.6 L433.0 176.0 L437.6 178.0 L443.5 180.3 L444.0 184.0 L440.6 186.2 L438.0 190.0 L447.0 195.6 L453.0 198.0 L461.2 200.2 L467.5 201.9 L476.9 199.0 L500.0 200.0 L520.0 205.0 L560.0 200.0 L600.0 195.0 L630.0 200.0 L636.7 197.0 L645.0 200.0 L700.0 200.0 L700.0 90.0 L414.0 90.0Z" fill="url(#hd)"/>
</g>
<path d="M48.0 141.0 L53.0 137.0 L60.0 134.0 L66.0 137.5 L74.0 136.0 L82.0 133.0 L90.0 131.0 L98.0 129.4 L108.0 128.0 L118.0 130.0 L127.0 131.6 L140.0 131.4 L152.0 129.8 L160.0 132.9 L167.5 134.4 L178.0 135.2 L190.5 134.4 L199.7 135.9 L207.3 132.9 L211.9 139.8 L207.3 145.9 L201.2 148.9 L192.0 151.2 L187.4 156.6 L188.9 160.4 L196.6 163.5 L202.7 167.3 L203.5 174.2 L207.3 174.2 L208.8 167.3 L215.7 162.7 L217.2 158.1 L221.0 153.5 L218.0 149.7 L223.4 148.9 L231.8 150.5 L235.6 155.8 L244.0 153.5 L247.0 164.2 L253.2 170.4 L251.7 176.5 L244.0 179.5 L234.8 178.0 L228.7 182.6 L224.0 185.0 L230.0 184.5 L236.0 188.0 L230.0 191.0 L226.0 194.0 L221.0 195.0 L216.0 198.0 L212.0 200.5 L210.0 202.0 L206.0 204.0 L202.0 208.0 L200.0 210.0 L196.0 214.0 L190.0 220.0 L186.0 226.0 L184.0 230.0 L184.5 236.0 L181.0 241.0 L178.5 236.0 L178.0 230.0 L176.0 228.5 L170.0 230.0 L160.0 232.0 L154.0 233.0 L149.0 236.0 L145.0 241.0 L143.0 249.0 L145.0 256.0 L149.0 260.0 L155.0 259.6 L157.6 253.5 L166.5 252.4 L165.3 257.6 L162.4 261.2 L161.2 265.9 L163.5 267.0 L170.0 267.3 L172.7 268.8 L172.0 275.0 L171.2 280.6 L173.0 284.0 L175.3 285.3 L180.0 283.5 L183.5 284.7 L185.3 285.3 L185.3 287.0 L183.5 288.8 L180.0 286.5 L178.2 288.2 L176.5 288.2 L174.7 286.5 L171.8 286.5 L170.0 284.0 L167.6 283.0 L166.0 280.0 L164.0 275.3 L161.8 274.0 L158.8 273.5 L157.0 271.5 L154.0 270.0 L153.0 269.0 L151.0 266.0 L147.0 267.0 L142.0 266.5 L136.0 264.0 L130.0 260.5 L125.0 257.0 L124.0 255.0 L125.5 253.0 L124.0 248.0 L121.0 244.0 L118.5 240.0 L116.5 236.0 L114.0 231.0 L112.5 226.0 L110.0 226.0 L109.5 231.0 L111.5 235.0 L113.5 240.0 L115.0 245.0 L116.0 247.5 L115.5 248.4 L111.5 244.0 L109.5 239.0 L106.5 236.0 L107.0 230.0 L106.0 223.6 L102.0 218.0 L99.0 210.0 L102.0 198.0 L108.0 186.0 L114.0 183.0 L108.0 178.0 L110.0 170.0 L113.0 164.0 L112.0 156.0 L105.0 153.6 L94.0 153.0 L82.0 154.0 L70.0 159.0 L60.0 162.0 L44.0 167.0 L56.0 163.0 L64.0 160.0 L60.0 156.0 L62.0 150.0 L66.0 147.0 L72.0 146.0 L76.0 143.0 L70.0 141.5 L64.0 143.5 L58.0 144.0Z" fill="none" stroke="#cbcbcb" stroke-width="0.6"/>
<path d="M185.3 285.3 L187.0 282.4 L191.8 279.4 L197.6 276.5 L199.8 276.7 L202.4 277.6 L205.9 279.4 L213.0 280.6 L220.0 281.2 L222.4 284.0 L225.9 286.5 L230.0 291.8 L234.0 293.0 L238.2 293.5 L244.0 298.0 L250.0 306.0 L260.0 312.0 L274.0 319.0 L282.0 325.0 L283.0 330.0 L279.0 338.0 L275.0 346.0 L274.0 356.0 L270.0 366.0 L262.0 371.0 L256.0 377.0 L254.0 384.0 L248.0 392.0 L245.0 398.0 L239.9 401.4 L239.2 407.0 L232.0 410.6 L228.6 417.0 L226.5 424.0 L229.3 432.5 L226.5 439.5 L230.7 447.3 L237.0 450.5 L232.0 452.0 L225.0 449.4 L216.6 443.8 L211.0 435.3 L208.0 425.4 L206.7 414.0 L204.6 404.2 L206.0 390.0 L205.0 370.0 L203.0 356.0 L196.0 348.0 L188.0 340.0 L182.0 330.0 L178.0 323.0 L176.0 316.0 L177.0 308.0 L180.6 304.0 L182.4 301.2 L184.5 295.3 L184.7 289.4 L185.3 287.0Z" fill="none" stroke="#cbcbcb" stroke-width="0.6"/>
<path d="M349.4 215.0 L354.1 214.4 L359.4 216.8 L363.5 214.2 L369.4 213.2 L376.5 212.3 L380.6 211.8 L384.1 211.1 L387.1 212.3 L386.5 216.8 L388.2 220.9 L390.6 222.6 L396.5 224.4 L402.4 227.9 L407.1 228.5 L407.6 224.4 L412.9 223.2 L418.2 225.6 L420.0 226.2 L425.9 227.0 L431.8 226.2 L436.5 227.9 L439.8 233.2 L437.6 235.8 L435.1 230.6 L445.3 250.3 L448.2 256.8 L450.6 262.6 L453.5 269.1 L459.4 275.4 L461.8 276.8 L462.1 279.7 L470.6 277.9 L480.0 276.8 L480.6 279.1 L478.2 286.2 L472.9 296.8 L465.9 305.0 L458.8 311.5 L456.5 315.6 L453.5 320.3 L452.9 326.2 L454.1 335.0 L455.3 335.6 L456.5 346.2 L452.9 350.9 L447.1 355.6 L442.4 360.3 L444.1 366.2 L441.2 372.1 L436.5 375.6 L435.3 377.9 L435.3 382.6 L430.6 388.5 L424.7 395.0 L414.0 397.5 L404.0 398.5 L400.0 384.0 L395.0 370.0 L389.2 353.2 L389.4 348.5 L391.2 342.6 L392.9 332.1 L391.8 325.0 L392.9 330.9 L391.8 323.8 L390.6 320.3 L388.2 318.5 L385.9 315.6 L383.5 310.9 L384.1 303.8 L385.3 300.9 L383.5 297.9 L380.0 297.4 L375.3 296.8 L371.8 292.6 L368.2 292.6 L364.7 293.2 L358.8 295.8 L355.3 294.4 L350.6 295.6 L344.7 296.8 L337.6 291.5 L332.9 286.2 L330.0 281.5 L327.1 277.9 L324.7 275.6 L322.9 269.7 L323.5 267.4 L325.3 263.8 L325.9 257.9 L324.7 253.2 L328.8 246.2 L332.9 240.3 L336.5 234.4 L340.6 230.3 L341.8 225.0 L345.3 220.3Z" fill="none" stroke="#cbcbcb" stroke-width="0.6"/>
<path d="M439.7 232.6 L438.8 228.2 L439.7 225.6 L440.8 222.6 L441.6 219.7 L441.4 215.0 L441.8 213.8 L440.6 212.1 L438.8 211.5 L435.3 212.3 L431.2 213.2 L427.6 212.1 L425.3 211.5 L421.8 212.3 L418.8 210.3 L417.4 206.2 L418.2 202.1 L419.4 199.7 L418.8 198.5 L417.6 197.9 L417.1 199.1 L411.2 200.3 L414.7 202.1 L412.4 205.6 L414.7 210.3 L412.4 213.8 L407.6 207.9 L405.3 205.0 L403.5 201.5 L402.4 197.9 L398.2 196.2 L393.5 192.6 L388.8 189.1 L386.5 190.1 L391.2 195.0 L397.1 200.3 L400.6 203.2 L400.0 205.6 L397.6 205.0 L395.9 207.9 L394.1 210.3 L393.5 206.2 L388.8 201.5 L385.3 197.9 L381.8 193.8 L379.4 192.6 L377.1 193.8 L373.5 194.4 L370.0 195.6 L367.6 197.9 L365.3 202.1 L362.9 205.6 L361.2 209.1 L358.2 211.5 L354.7 212.6 L351.8 213.8 L349.4 212.1 L345.3 210.9 L342.9 210.3 L342.4 205.6 L344.1 200.9 L343.5 197.9 L344.1 196.2 L348.8 195.0 L355.9 195.6 L360.6 196.2 L359.7 191.8 L357.9 187.1 L354.4 183.5 L353.8 181.8 L360.3 180.6 L364.4 180.0 L363.2 177.1 L368.5 175.3 L370.9 172.9 L375.0 170.0 L377.4 169.4 L379.1 167.6 L379.1 161.8 L381.5 160.0 L383.2 163.5 L382.6 167.1 L386.8 167.6 L391.5 168.2 L396.2 167.1 L402.6 166.5 L403.8 162.4 L405.6 160.0 L403.8 156.5 L405.6 154.1 L409.1 153.5 L410.3 154.7 L417.4 154.1 L417.4 152.9 L411.5 151.2 L406.8 151.2 L402.6 150.6 L400.9 145.9 L402.1 140.0 L405.0 139.0 L407.0 137.0 L404.4 140.0 L395.0 140.0 L396.2 144.7 L397.9 149.4 L396.2 155.3 L393.2 160.6 L390.3 163.5 L386.8 162.9 L385.0 158.8 L384.4 153.5 L382.6 153.5 L380.3 155.9 L375.0 156.5 L372.1 152.9 L372.6 148.2 L378.5 143.5 L385.6 140.0 L384.0 140.0 L394.0 132.0 L406.0 128.0 L414.0 130.0 L428.0 133.0 L434.0 138.0 L428.0 142.0 L425.0 145.0 L429.0 148.0 L434.0 145.0 L436.0 140.0 L438.0 135.0 L448.0 136.0 L464.0 132.0 L476.0 126.0 L484.0 128.0 L492.0 124.0 L510.0 118.0 L510.0 114.0 L522.0 116.0 L538.0 121.0 L558.0 124.0 L576.0 124.0 L590.0 127.0 L610.0 129.0 L630.0 131.0 L650.0 132.0 L666.0 133.0 L674.0 140.0 L676.5 141.2 L681.2 144.7 L685.3 147.6 L682.4 148.5 L677.6 149.6 L676.5 152.9 L670.6 151.8 L663.5 155.3 L665.9 157.6 L671.8 162.4 L674.7 167.1 L675.3 172.9 L674.1 175.3 L670.6 172.9 L664.7 168.2 L658.8 161.8 L658.8 157.6 L661.2 152.9 L657.6 148.8 L656.5 151.2 L651.8 150.0 L648.2 151.8 L646.5 155.9 L638.8 155.3 L630.6 155.9 L626.5 158.2 L624.7 165.3 L628.2 167.6 L638.8 168.8 L643.5 174.1 L646.5 181.2 L647.1 187.1 L644.7 192.9 L640.6 195.9 L641.2 197.1 L638.8 201.8 L640.6 206.5 L642.9 210.0 L644.1 214.7 L641.8 218.2 L638.2 218.2 L635.9 213.5 L634.1 208.8 L630.6 207.6 L628.2 204.1 L623.5 205.9 L621.8 202.9 L618.8 202.4 L617.6 205.3 L614.7 207.1 L617.6 209.4 L621.2 211.2 L625.3 211.2 L626.5 212.9 L622.9 215.3 L625.3 219.4 L629.4 223.5 L631.8 227.6 L633.5 231.2 L633.5 234.7 L631.8 238.2 L631.2 242.9 L628.2 246.5 L624.7 248.8 L620.0 250.6 L616.5 251.8 L612.9 252.9 L610.9 253.2 L608.5 252.1 L605.0 253.2 L603.2 258.5 L606.1 262.1 L609.6 265.6 L612.1 269.1 L613.5 273.3 L613.1 277.6 L610.3 280.8 L607.5 283.2 L605.0 285.7 L603.9 284.6 L604.6 282.5 L603.2 280.4 L600.8 279.3 L599.0 277.2 L597.6 275.5 L596.5 275.5 L594.8 275.1 L593.7 273.3 L591.9 273.7 L591.6 276.2 L591.9 279.0 L590.9 281.8 L591.9 283.9 L593.3 286.1 L594.8 288.9 L596.9 291.0 L597.9 292.4 L599.7 294.5 L601.1 297.0 L601.8 298.4 L603.9 304.7 L601.8 306.1 L598.2 301.2 L594.7 297.6 L593.3 294.1 L594.8 292.1 L593.0 289.9 L591.2 287.5 L588.8 286.1 L589.1 283.2 L589.8 279.7 L589.1 279.0 L588.1 275.5 L587.0 271.9 L585.9 268.4 L584.9 265.6 L583.5 266.3 L580.6 267.0 L577.8 265.6 L577.4 263.8 L576.2 259.1 L573.2 253.2 L570.9 248.5 L570.6 251.8 L568.8 249.4 L566.5 251.2 L562.4 251.8 L560.0 254.1 L556.5 258.8 L551.8 264.1 L547.1 267.1 L545.9 269.4 L546.8 274.1 L546.5 280.0 L544.1 284.1 L541.2 287.6 L538.8 283.5 L534.7 275.3 L531.2 267.1 L528.8 258.8 L527.6 252.9 L523.5 253.5 L519.4 250.6 L514.1 243.5 L511.5 242.6 L502.1 241.5 L501.5 239.1 L501.2 240.3 L495.3 240.9 L490.6 240.3 L488.2 237.9 L484.7 239.1 L481.2 237.9 L477.6 234.4 L474.1 230.9 L471.2 228.5 L469.4 230.3 L470.6 234.4 L475.3 240.3 L477.6 243.8 L478.2 240.9 L480.0 241.5 L480.0 244.4 L481.2 247.4 L485.9 246.8 L489.4 243.8 L490.6 245.0 L495.3 247.9 L497.6 250.3 L495.3 255.6 L490.6 261.5 L485.9 265.0 L483.5 265.6 L478.8 269.1 L472.9 271.5 L467.1 273.2 L462.9 275.0 L461.8 270.9 L460.6 265.0 L458.8 261.5 L454.1 254.4 L449.4 246.2 L445.3 239.1 L441.8 235.0 L440.6 233.2ZM421.8 193.8 L424.7 190.3 L426.5 187.4 L429.4 187.9 L432.4 189.7 L434.1 192.6 L438.2 190.3 L436.5 186.8 L440.6 187.4 L440.6 190.3 L438.8 191.5 L442.4 193.2 L447.1 195.6 L450.6 197.9 L451.8 200.3 L447.1 200.9 L441.2 200.3 L436.5 198.5 L431.8 199.1 L427.1 200.3 L423.5 199.1 L421.8 196.8ZM461.2 187.6 L464.0 186.9 L468.2 186.2 L471.1 186.9 L472.8 189.0 L471.1 191.1 L468.6 192.4 L469.6 194.5 L472.1 196.8 L474.2 198.9 L473.7 199.5 L475.3 198.3 L477.4 198.5 L478.7 200.2 L476.7 201.6 L475.1 201.4 L475.6 203.3 L476.7 205.5 L478.1 208.6 L478.1 211.5 L475.3 212.2 L471.1 211.1 L468.2 209.0 L467.9 206.2 L469.3 203.1 L467.5 200.2 L465.1 196.6 L462.6 193.8 L460.6 191.0Z" fill="none" stroke="#cbcbcb" stroke-width="0.6"/>
<polyline points="467.0,176.0 459.0,178.0 462.0,174.0 470.0,172.0 480.0,170.0 484.0,166.0 490.0,164.7 496.0,165.0 511.2,167.0 521.8,174.7 538.2,180.0" fill="none" stroke="#cfcfcf" stroke-width="0.7"/>
<polyline points="114.0,183.0 120.0,181.0 170.0,181.0 182.0,183.0 190.0,188.0 194.0,194.0 200.0,196.0 206.0,193.0 212.0,190.0 220.0,187.0 224.0,185.0" fill="none" stroke="#cfcfcf" stroke-width="0.7"/>
<polyline points="127.0,131.6 105.0,153.6" fill="none" stroke="#cfcfcf" stroke-width="0.7"/>
<polyline points="201.7,319.2 195.0,321.7 193.3,328.3 195.0,332.5 201.7,334.2 202.5,337.5 204.2,337.5" fill="none" stroke="#cfcfcf" stroke-width="0.7"/>
<polyline points="207.5,303.3 210.0,305.8 214.2,302.5 215.8,298.3 221.7,296.7 225.0,301.7" fill="none" stroke="#cfcfcf" stroke-width="0.7"/>
<polyline points="227.5,305.0 233.3,303.3 238.3,301.7 243.3,301.7 246.0,299.0" fill="none" stroke="#cfcfcf" stroke-width="0.7"/>
<polyline points="222.0,361.0 226.7,360.0 231.7,360.8 232.5,365.8 237.5,367.5 240.0,372.0 242.0,378.0 236.0,387.0 236.0,398.0" fill="none" stroke="#cfcfcf" stroke-width="0.7"/>
<polyline points="211.0,368.0 207.0,390.0 210.0,410.0 216.0,430.0 222.0,442.0 230.0,447.0" fill="none" stroke="#cfcfcf" stroke-width="0.7"/>
<polyline points="236.0,387.0 245.0,390.0 247.0,394.0" fill="none" stroke="#cfcfcf" stroke-width="0.7"/>
<polyline points="219.0,367.0 222.0,372.0 228.0,373.0 232.0,367.0" fill="none" stroke="#cfcfcf" stroke-width="0.7"/>
<polyline points="184.0,320.0 190.0,316.0 196.0,322.0" fill="none" stroke="#cfcfcf" stroke-width="0.7"/>
<polyline points="347.4,195.9 347.9,201.2 346.2,205.9 346.8,210.0" fill="none" stroke="#cfcfcf" stroke-width="0.7"/>
<polyline points="358.5,195.3 363.2,196.5 367.9,197.6" fill="none" stroke="#cfcfcf" stroke-width="0.7"/>
<polyline points="368.5,175.3 372.6,178.8 376.2,181.2 377.9,184.7 375.6,188.2 376.8,191.8 377.4,194.7" fill="none" stroke="#cfcfcf" stroke-width="0.7"/>
<polyline points="375.0,170.0 374.4,175.3 376.2,181.2" fill="none" stroke="#cfcfcf" stroke-width="0.7"/>
<polyline points="377.9,184.7 384.4,185.3 388.5,184.1 390.3,180.0 387.9,175.3 388.5,169.4 386.8,167.6" fill="none" stroke="#cfcfcf" stroke-width="0.7"/>
<polyline points="402.6,166.5 404.4,170.6 403.2,175.3 404.4,178.8 396.2,181.2 390.3,180.0" fill="none" stroke="#cfcfcf" stroke-width="0.7"/>
<polyline points="377.4,194.7 380.3,190.6 385.6,188.8 390.3,190.6" fill="none" stroke="#cfcfcf" stroke-width="0.7"/>
<polyline points="385.0,158.8 385.6,152.9 386.8,147.1 390.3,142.4 393.8,140.0" fill="none" stroke="#cfcfcf" stroke-width="0.7"/>
<polyline points="411.5,140.0 415.0,145.9 417.4,152.9" fill="none" stroke="#cfcfcf" stroke-width="0.7"/>
<polyline points="417.4,154.1 415.0,158.8 416.2,163.5 411.5,167.1 404.4,166.5" fill="none" stroke="#cfcfcf" stroke-width="0.7"/>
<polyline points="404.4,170.6 411.5,167.1 419.7,169.4 417.4,174.1 411.5,175.3 404.4,175.3" fill="none" stroke="#cfcfcf" stroke-width="0.7"/>
<polyline points="404.4,178.8 410.3,185.9 417.4,183.5 422.6,187.1" fill="none" stroke="#cfcfcf" stroke-width="0.7"/>
<polyline points="422.6,191.8 416.2,192.9 410.3,191.8 405.6,187.1 400.9,187.1 396.2,181.2" fill="none" stroke="#cfcfcf" stroke-width="0.7"/>
<polyline points="388.5,184.1 393.8,185.9 398.5,184.7 400.9,187.1" fill="none" stroke="#cfcfcf" stroke-width="0.7"/>
<polyline points="393.8,189.4 398.5,188.2 405.6,187.1" fill="none" stroke="#cfcfcf" stroke-width="0.7"/>
<polyline points="410.3,191.8 411.5,197.6 417.4,198.8 419.7,198.8" fill="none" stroke="#cfcfcf" stroke-width="0.7"/>
<polyline points="411.5,197.6 409.1,202.4 411.5,205.9 417.4,204.7 420.9,203.5" fill="none" stroke="#cfcfcf" stroke-width="0.7"/>
<polyline points="441.8,213.8 447.1,212.1 454.1,211.5 461.2,209.7 465.9,210.3 467.6,207.9" fill="none" stroke="#cfcfcf" stroke-width="0.7"/>
<polyline points="406.0,128.0 410.0,134.0 409.0,139.0 405.0,139.0" fill="none" stroke="#cfcfcf" stroke-width="0.7"/>
<g clip-path="url(#clip-na)">
<path d="M100.0 220.0 L106.0 223.6 L114.0 224.4 L126.0 226.0 L131.0 227.0 L134.0 231.6 L138.0 231.0 L142.0 236.0 L145.0 241.0 L150.0 241.0 L172.0 245.0 L172.0 258.0 L162.4 261.2 L160.0 262.4 L156.5 262.4 L155.3 265.3 L151.8 267.6 L148.0 276.0 L100.0 262.0Z" fill="#083f7f" stroke="#41566b" stroke-opacity="0.6" stroke-width="0.4"/>
<path d="M162.4 261.2 L172.0 258.0 L172.0 266.0 L161.2 265.9 L160.0 262.4Z" fill="#083f7f" stroke="#41566b" stroke-opacity="0.6" stroke-width="0.4"/>
<path d="M159.4 268.2 L163.5 267.0 L170.0 266.0 L175.0 268.0 L168.8 270.6 L165.3 273.5 L164.0 274.7 L161.8 272.4 L160.0 271.2Z" fill="#085396" stroke="#41566b" stroke-opacity="0.6" stroke-width="0.4"/>
<path d="M157.0 271.5 L160.0 271.2 L162.4 273.0 L161.8 276.0 L155.0 275.0Z" fill="#083f7f" stroke="#41566b" stroke-opacity="0.6" stroke-width="0.4"/>
<path d="M164.0 279.5 L168.8 279.4 L171.2 280.6 L173.0 284.0 L171.8 286.5 L168.0 290.0 L162.0 284.0Z" fill="#083f7f" stroke="#41566b" stroke-opacity="0.6" stroke-width="0.4"/>
</g>
<g clip-path="url(#clip-sa)">
<path d="M180.0 284.0 L187.0 282.4 L191.8 279.4 L197.6 276.5 L201.0 274.0 L197.6 280.0 L195.9 283.0 L197.0 287.0 L200.0 290.0 L204.0 291.2 L207.6 291.8 L207.0 296.5 L208.2 304.0 L204.0 305.3 L202.4 308.2 L202.0 310.0 L203.0 319.0 L200.0 316.0 L194.0 314.0 L190.0 310.0 L187.0 307.0 L184.7 305.9 L180.6 304.0 L176.0 300.0 L176.0 286.0Z" fill="#0868ac" stroke="#41566b" stroke-opacity="0.6" stroke-width="0.4"/>
<path d="M180.6 304.0 L184.7 305.9 L187.0 307.0 L190.0 310.0 L187.0 314.0 L182.0 318.0 L179.0 321.0 L174.0 322.0 L172.0 312.0 L176.0 304.0Z" fill="#083f7f" stroke="#41566b" stroke-opacity="0.6" stroke-width="0.4"/>
<path d="M222.4 290.6 L225.9 286.5 L228.0 284.0 L232.0 291.0 L231.2 294.7 L229.2 297.6 L230.6 301.2 L233.0 303.0 L229.4 304.0 L227.0 305.3 L225.3 300.0 L224.0 295.3Z" fill="#085396" stroke="#41566b" stroke-opacity="0.6" stroke-width="0.4"/>
<path d="M231.2 294.7 L234.0 291.0 L240.0 292.0 L237.6 298.8 L238.2 301.2 L235.3 302.4 L233.0 303.0 L230.6 301.2 L229.2 297.6Z" fill="#0868ac" stroke="#41566b" stroke-opacity="0.6" stroke-width="0.4"/>
<path d="M204.0 338.0 L212.0 334.0 L214.0 341.0 L223.0 345.0 L229.0 351.0 L232.0 354.0 L231.0 360.0 L222.0 361.0 L219.0 367.0 L215.0 366.0 L211.0 368.0 L207.0 362.0 L206.0 356.0 L205.0 348.0Z" fill="#ccebc5" stroke="#41566b" stroke-opacity="0.6" stroke-width="0.4"/>
</g>
<g clip-path="url(#clip-af)">
<path d="M320.0 205.0 L496.5 205.0 L496.5 405.0 L320.0 405.0Z" fill="#e0f3db" stroke="#41566b" stroke-opacity="0.6" stroke-width="0.4"/>
<path d="M349.4 215.0 L354.1 214.4 L359.4 216.8 L360.6 222.6 L356.5 226.2 L350.6 230.3 L344.1 233.8 L343.5 236.8 L342.9 240.1 L336.5 240.3 L336.5 245.6 L333.5 246.2 L332.9 252.6 L324.7 253.2 L320.0 253.2 L320.0 205.0 L349.4 205.0Z" fill="url(#h)" stroke="#cbcbcb" stroke-width="0.6"/>
<path d="M324.7 253.2 L332.9 252.6 L333.5 246.2 L336.5 245.6 L336.5 240.3 L342.9 240.1 L343.5 236.8 L349.4 241.5 L348.8 243.8 L350.0 266.8 L336.5 268.5 L335.3 269.7 L332.9 267.4 L331.8 266.2 L325.9 265.6 L320.0 266.2 L320.0 253.2Z" fill="#7bccc4" stroke="#41566b" stroke-opacity="0.6" stroke-width="0.4"/>
<path d="M359.4 216.8 L359.4 209.7 L380.6 209.7 L380.6 211.8 L380.0 216.8 L381.2 221.5 L384.1 224.4 L385.3 227.4 L384.1 233.2 L384.7 240.3 L386.5 243.8 L389.4 246.2 L372.9 257.9 L370.6 256.8 L349.4 241.5 L343.5 236.8 L344.1 233.8 L350.6 230.3 L356.5 226.2 L360.6 222.6Z" fill="#085396" stroke="#41566b" stroke-opacity="0.6" stroke-width="0.4"/>
<path d="M380.6 211.8 L380.6 209.7 L389.4 209.7 L389.4 221.5 L390.6 222.6 L387.6 223.8 L385.3 227.4 L384.1 224.4 L381.2 221.5 L380.0 216.8Z" fill="#083f7f" stroke="#41566b" stroke-opacity="0.6" stroke-width="0.4"/>
<path d="M390.6 222.6 L390.6 219.1 L418.2 219.1 L418.2 225.6 L418.6 256.8 L417.6 256.8 L396.5 248.5 L389.4 246.2 L386.5 243.8 L384.7 240.3 L384.1 233.2 L385.3 227.4 L387.6 223.8Z" fill="#083f7f" stroke="#41566b" stroke-opacity="0.6" stroke-width="0.4"/>
<path d="M418.2 222.6 L436.5 222.6 L436.5 227.9 L439.8 233.2 L437.6 235.8 L447.1 235.8 L447.1 250.9 L418.6 250.9Z" fill="#083f7f" stroke="#41566b" stroke-opacity="0.6" stroke-width="0.4"/>
<path d="M372.9 257.9 L389.4 246.2 L396.5 248.5 L397.6 254.4 L395.3 262.6 L393.5 270.9 L394.7 274.4 L390.6 273.2 L383.5 273.8 L375.3 272.6 L371.8 273.2 L371.2 280.3 L369.4 276.8 L368.2 276.8 L364.7 272.1 L361.2 269.7 L363.5 269.1 L370.6 267.4 L372.4 262.6Z" fill="#ccebc5" stroke="#41566b" stroke-opacity="0.6" stroke-width="0.4"/>
<path d="M396.5 248.5 L417.6 256.8 L417.6 265.0 L414.7 270.9 L413.5 275.6 L415.3 279.1 L407.1 284.4 L401.2 287.9 L398.2 288.5 L395.3 282.6 L397.6 280.3 L396.5 275.6 L395.3 274.4 L393.5 270.9 L395.3 262.6 L397.6 254.4Z" fill="#ccebc5" stroke="#41566b" stroke-opacity="0.6" stroke-width="0.4"/>
<path d="M371.8 273.2 L375.3 272.6 L383.5 273.8 L390.6 273.2 L394.7 274.4 L395.9 277.9 L392.9 282.6 L390.6 287.4 L385.9 290.3 L383.5 294.4 L381.2 297.4 L381.2 300.3 L370.6 300.3 L371.8 292.6 L370.0 290.9 L371.2 280.3Z" fill="#a8ddb5" stroke="#41566b" stroke-opacity="0.6" stroke-width="0.4"/>
<path d="M394.7 274.4 L396.5 275.6 L397.6 280.3 L395.3 282.6 L398.2 288.5 L396.5 293.2 L400.0 302.6 L387.1 302.1 L383.5 303.2 L382.4 297.9 L383.5 294.4 L385.9 290.3 L390.6 287.4 L392.9 282.6 L395.9 277.9Z" fill="#a8ddb5" stroke="#41566b" stroke-opacity="0.6" stroke-width="0.4"/>
<path d="M401.2 287.9 L407.1 284.4 L414.1 280.3 L415.3 279.1 L418.8 284.4 L425.3 294.4 L418.8 295.4 L412.9 296.8 L407.1 295.8 L403.5 299.1 L400.0 300.3 L396.5 293.2 L398.2 288.5Z" fill="#ccebc5" stroke="#41566b" stroke-opacity="0.6" stroke-width="0.4"/>
<path d="M418.8 284.4 L423.5 282.1 L429.4 283.2 L435.3 280.3 L437.6 276.2 L439.4 277.9 L440.0 282.6 L439.4 287.4 L442.4 292.1 L443.5 294.4 L437.6 298.5 L432.9 297.9 L428.2 296.8 L425.3 294.4Z" fill="#ccebc5" stroke="#41566b" stroke-opacity="0.6" stroke-width="0.4"/>
<path d="M440.0 282.6 L443.5 276.8 L446.5 270.9 L451.8 270.3 L458.8 276.8 L462.4 280.3 L467.1 283.8 L472.4 287.4 L467.1 293.2 L463.5 295.6 L458.8 297.9 L451.8 299.1 L447.1 296.8 L443.5 294.4 L442.4 292.1 L439.4 287.4Z" fill="#f7fcf0" stroke="#41566b" stroke-opacity="0.6" stroke-width="0.4"/>
<path d="M446.5 270.9 L447.1 267.4 L449.4 261.5 L462.4 274.4 L458.8 276.8 L451.8 270.3Z" fill="url(#h)" stroke="#cbcbcb" stroke-width="0.6"/>
<path d="M458.5 276.5 L460.0 275.6 L462.6 276.2 L462.4 279.7 L460.0 279.1 L458.5 278.9Z" fill="#2b8cbe" stroke="#41566b" stroke-opacity="0.6" stroke-width="0.4"/>
<path d="M443.5 294.4 L447.1 296.8 L451.8 299.1 L458.8 297.9 L458.2 300.3 L458.8 311.5 L461.2 316.8 L453.5 321.5 L450.6 316.8 L441.8 310.9 L443.5 305.0 L442.4 299.1Z" fill="#4eb3d3" stroke="#41566b" stroke-opacity="0.6" stroke-width="0.4"/>
<path d="M433.5 299.1 L437.6 298.5 L441.8 298.5 L443.5 305.0 L441.2 310.9 L432.4 310.9 L432.9 305.0Z" fill="#ccebc5" stroke="#41566b" stroke-opacity="0.6" stroke-width="0.4"/>
<path d="M356.5 279.7 L363.5 279.7 L364.7 293.2 L365.3 297.9 L355.3 297.9 L355.9 293.8 L355.6 287.4Z" fill="#7bccc4" stroke="#41566b" stroke-opacity="0.6" stroke-width="0.4"/>
<path d="M351.2 280.3 L354.1 275.0 L361.2 269.7 L364.7 272.1 L368.2 276.8 L364.7 279.7 L355.9 279.7Z" fill="#ccebc5" stroke="#41566b" stroke-opacity="0.6" stroke-width="0.4"/>
<path d="M344.1 282.6 L351.2 280.3 L355.9 279.7 L355.6 287.4 L355.9 293.8 L355.3 299.1 L345.3 299.1 L343.5 288.5Z" fill="#ccebc5" stroke="#41566b" stroke-opacity="0.6" stroke-width="0.4"/>
<path d="M337.6 287.4 L339.4 286.2 L343.5 289.7 L345.3 296.5 L345.3 300.3 L335.3 292.1Z" fill="#f7fcf0" stroke="#41566b" stroke-opacity="0.6" stroke-width="0.4"/>
<path d="M328.8 278.5 L336.5 276.8 L342.4 279.1 L343.5 285.0 L341.2 287.4 L339.4 286.2 L337.6 282.6 L332.9 283.8 L330.0 281.5 L327.1 280.3Z" fill="#ccebc5" stroke="#41566b" stroke-opacity="0.6" stroke-width="0.4"/>
<path d="M322.4 275.0 L329.4 275.6 L330.0 278.5 L327.1 280.3 L322.4 278.5Z" fill="#e0f3db" stroke="#41566b" stroke-opacity="0.6" stroke-width="0.4"/>
<path d="M321.2 267.4 L325.9 265.6 L331.8 266.2 L332.9 267.4 L335.3 269.7 L336.5 274.4 L331.8 276.2 L324.7 275.6 L321.2 272.1Z" fill="#ccebc5" stroke="#41566b" stroke-opacity="0.6" stroke-width="0.4"/>
<path d="M388.8 302.6 L392.9 302.6 L393.5 307.4 L396.5 308.5 L395.3 313.8 L390.6 315.6 L388.8 319.7 L381.2 311.5 L382.4 305.6 L388.8 305.6Z" fill="#7bccc4" stroke="#41566b" stroke-opacity="0.6" stroke-width="0.4"/>
<path d="M382.4 302.6 L388.8 302.6 L388.8 305.6 L382.4 305.6Z" fill="url(#h)" stroke="#cbcbcb" stroke-width="0.6"/>
<path d="M392.9 302.6 L400.0 302.6 L402.4 299.1 L404.7 300.3 L402.4 308.5 L397.6 315.6 L391.8 320.9 L389.4 320.9 L388.8 318.5 L390.6 315.6 L395.3 313.8 L396.5 308.5 L393.5 307.4Z" fill="url(#h)" stroke="#cbcbcb" stroke-width="0.6"/>
<path d="M390.6 323.8 L400.0 323.8 L402.4 329.1 L407.1 328.5 L411.8 327.4 L414.1 330.9 L414.7 336.2 L417.6 337.4 L417.6 342.1 L414.1 342.6 L412.4 348.5 L414.7 353.8 L409.4 354.4 L394.1 353.8 L389.2 353.2 L385.9 353.2 L385.9 323.8Z" fill="#a8ddb5" stroke="#41566b" stroke-opacity="0.6" stroke-width="0.4"/>
<path d="M389.4 320.3 L392.4 320.9 L392.0 323.2 L389.4 323.2Z" fill="#a8ddb5" stroke="#41566b" stroke-opacity="0.6" stroke-width="0.4"/>
<path d="M420.6 355.6 L427.1 351.5 L431.8 349.5 L437.1 351.5 L437.6 355.6 L436.5 361.5 L434.1 366.2 L430.6 366.2 L426.5 363.2 L422.9 358.5Z" fill="#7bccc4" stroke="#41566b" stroke-opacity="0.6" stroke-width="0.4"/>
<path d="M389.2 353.2 L394.1 353.8 L409.4 354.4 L414.7 353.8 L420.6 355.6 L422.9 358.5 L426.5 363.2 L430.6 366.2 L434.1 366.2 L434.4 367.4 L434.1 375.6 L435.9 377.9 L438.8 379.1 L438.8 402.6 L383.5 402.6 L383.5 353.2Z" fill="url(#h)" stroke="#cbcbcb" stroke-width="0.6"/>
<path d="M431.8 376.2 L434.7 376.2 L435.1 379.7 L431.8 379.7Z" fill="#a8ddb5" stroke="#41566b" stroke-opacity="0.6" stroke-width="0.4"/>
<path d="M423.5 385.0 L425.9 383.6 L427.6 385.0 L426.5 387.9 L424.1 388.5 L422.9 386.8Z" fill="#a8ddb5" stroke="#41566b" stroke-opacity="0.6" stroke-width="0.4"/>
<path d="M430.8 313.0 L433.9 312.6 L434.4 316.2 L431.2 316.5Z" fill="url(#h)" stroke="#cbcbcb" stroke-width="0.6"/>
</g>
<g clip-path="url(#clip-ea)">
<path d="M520.6 205.3 L524.1 202.9 L530.6 198.8 L531.8 196.5 L528.8 191.8 L533.5 189.4 L532.4 186.5 L537.1 184.7 L538.2 181.2 L542.9 182.9 L547.6 185.3 L551.2 190.6 L560.6 194.1 L566.5 197.1 L577.1 197.6 L584.1 199.4 L590.0 197.6 L586.0 199.0 L596.0 193.0 L600.0 189.0 L608.0 186.0 L600.0 182.0 L598.0 178.0 L600.0 171.0 L607.1 170.0 L612.9 172.9 L618.8 177.6 L625.9 182.4 L633.5 184.5 L636.5 182.6 L637.9 189.4 L634.7 191.8 L636.7 196.2 L634.1 199.4 L630.6 201.2 L627.1 204.5 L624.1 205.9 L626.5 206.5 L626.5 226.0 L645.0 226.0 L645.0 265.0 L590.0 265.0 L560.0 250.0 L520.0 240.0 L512.0 215.0Z" fill="#083f7f" stroke="#41566b" stroke-opacity="0.6" stroke-width="0.4"/>
<path d="M538.2 181.2 L546.5 176.5 L552.4 177.6 L557.6 178.2 L558.2 174.1 L565.3 176.5 L574.7 178.2 L584.1 180.0 L590.0 178.8 L598.0 178.0 L600.0 182.0 L608.0 186.0 L600.0 189.0 L596.0 193.0 L586.0 199.0 L576.0 198.0 L577.1 197.6 L566.5 197.1 L560.6 194.1 L551.2 190.6 L547.6 185.3 L542.9 182.9Z" fill="#085396" stroke="#41566b" stroke-opacity="0.6" stroke-width="0.4"/>
<path d="M524.4 217.9 L526.2 215.6 L530.3 215.6 L535.6 220.3 L537.4 225.0 L542.1 229.1 L547.9 232.6 L553.8 235.0 L559.7 235.8 L562.1 234.4 L567.9 234.4 L571.5 232.6 L576.2 232.1 L579.7 235.0 L577.4 239.1 L575.0 242.6 L573.2 246.2 L571.5 250.3 L570.3 250.9 L565.6 252.1 L564.4 254.4 L546.8 290.9 L535.0 290.9 L517.4 254.4 L518.5 245.6 L522.6 243.8 L519.7 240.3 L518.5 236.8 L523.2 234.4 L526.8 227.4 L527.4 220.3Z" fill="#085396" stroke="#41566b" stroke-opacity="0.6" stroke-width="0.4"/>
<path d="M499.1 231.5 L500.9 231.1 L507.9 230.3 L511.5 226.8 L515.0 224.4 L516.2 219.1 L517.9 216.2 L518.5 212.1 L523.8 209.7 L530.3 215.6 L526.2 215.6 L524.4 217.9 L527.4 220.3 L526.8 227.4 L523.2 234.4 L518.5 236.8 L519.7 240.3 L522.6 243.8 L518.5 245.6 L518.5 249.7 L499.7 245.0 L501.5 239.1 L503.8 237.9Z" fill="#085396" stroke="#41566b" stroke-opacity="0.6" stroke-width="0.4"/>
<path d="M495.8 218.6 L496.2 215.8 L499.5 215.8 L501.9 213.9 L504.2 211.1 L508.9 210.6 L512.7 211.1 L514.6 208.2 L516.5 209.2 L516.9 212.0 L524.0 211.1 L520.2 212.9 L518.4 215.8 L517.4 219.5 L514.6 224.2 L510.8 227.1 L508.9 230.8 L504.2 231.8 L499.5 231.3 L498.6 227.1 L496.2 223.3Z" fill="#4eb3d3" stroke="#41566b" stroke-opacity="0.6" stroke-width="0.4"/>
<path d="M508.0 205.4 L510.8 204.9 L515.5 203.5 L516.5 205.4 L520.2 206.4 L523.1 208.2 L524.0 211.1 L520.2 211.5 L516.9 212.0 L516.5 209.2 L514.6 208.2 L512.7 211.1 L508.9 210.6Z" fill="#0868ac" stroke="#41566b" stroke-opacity="0.6" stroke-width="0.4"/>
<path d="M508.9 203.5 L510.8 201.2 L512.7 197.4 L516.5 196.0 L524.0 197.4 L530.6 197.9 L525.9 201.2 L521.2 204.0 L520.2 206.4 L516.5 205.4 L515.5 203.5 L517.4 201.2 L512.7 201.6Z" fill="#083f7f" stroke="#41566b" stroke-opacity="0.6" stroke-width="0.4"/>
<path d="M478.8 191.3 L483.5 189.4 L488.2 192.2 L492.0 195.1 L497.6 194.1 L501.4 196.0 L504.2 200.2 L508.0 203.1 L510.8 201.2 L512.7 201.6 L517.4 201.2 L515.5 203.5 L510.8 204.9 L508.0 205.4 L508.9 210.6 L506.1 209.6 L502.4 208.2 L499.5 206.4 L494.8 202.6 L491.1 200.2 L489.2 197.9 L485.4 197.4 L482.6 199.3 L481.2 200.2Z" fill="#085396" stroke="#41566b" stroke-opacity="0.6" stroke-width="0.4"/>
<path d="M475.1 202.6 L474.1 199.3 L476.9 197.9 L478.8 199.8 L481.2 200.2 L482.6 199.3 L485.4 197.4 L489.2 197.9 L491.1 200.2 L494.8 202.6 L499.5 206.4 L502.4 208.2 L506.1 209.6 L508.9 210.6 L504.2 211.1 L501.9 213.9 L499.5 215.8 L496.2 215.8 L492.9 211.1 L489.2 209.2 L484.5 208.7 L480.2 210.1 L478.8 207.3 L477.4 204.5Z" fill="#083f7f" stroke="#41566b" stroke-opacity="0.6" stroke-width="0.4"/>
<path d="M541.5 229.7 L543.2 229.1 L547.9 232.6 L553.8 235.0 L559.7 236.2 L559.5 239.7 L553.8 238.5 L547.9 236.2 L543.2 233.8 L541.1 231.5Z" fill="#2b8cbe" stroke="#41566b" stroke-opacity="0.6" stroke-width="0.4"/>
<path d="M562.3 235.0 L567.9 234.6 L568.5 237.4 L562.6 237.9Z" fill="#083f7f" stroke="#41566b" stroke-opacity="0.6" stroke-width="0.4"/>
<path d="M560.9 239.7 L563.2 238.5 L565.6 241.5 L570.3 240.9 L569.1 245.0 L570.3 248.5 L569.1 250.3 L570.3 252.1 L564.4 253.8 L562.1 252.1 L562.6 246.2Z" fill="#0868ac" stroke="#41566b" stroke-opacity="0.6" stroke-width="0.4"/>
<path d="M579.7 235.0 L583.8 237.9 L582.6 242.6 L586.2 247.4 L590.3 251.5 L589.1 254.4 L585.6 257.9 L584.4 261.5 L586.2 266.2 L587.9 272.1 L589.7 276.8 L590.3 281.5 L589.1 283.2 L582.6 283.8 L568.5 260.3 L571.5 250.3 L573.2 246.2 L575.0 242.6 L575.6 236.8 L576.5 231.8Z" fill="#0868ac" stroke="#41566b" stroke-opacity="0.6" stroke-width="0.4"/>
<path d="M584.9 260.3 L587.0 257.1 L590.2 256.1 L592.3 258.9 L593.3 262.1 L596.2 261.7 L599.3 261.4 L601.5 264.2 L603.2 267.4 L603.9 269.1 L601.8 270.5 L599.0 271.6 L597.6 273.3 L596.5 276.2 L593.3 276.2 L593.3 283.2 L599.0 291.7 L597.9 292.8 L596.2 293.8 L587.7 288.2 L587.7 285.3 L589.1 283.2 L589.8 279.7 L589.5 276.9 L588.8 274.1 L587.4 270.5 L586.6 267.0 L585.6 263.5Z" fill="#083f7f" stroke="#41566b" stroke-opacity="0.6" stroke-width="0.4"/>
<path d="M590.3 251.5 L593.8 249.1 L596.2 250.3 L597.4 253.8 L599.7 257.8 L602.5 259.9 L605.3 263.5 L607.8 267.0 L608.5 270.9 L608.2 271.6 L606.1 271.2 L603.9 270.9 L603.9 269.1 L603.2 267.4 L601.5 264.2 L599.3 261.4 L596.2 261.7 L593.3 262.1 L592.3 258.9 L591.2 255.7 L590.3 255.6Z" fill="#2b8cbe" stroke="#41566b" stroke-opacity="0.6" stroke-width="0.4"/>
<path d="M596.2 250.3 L600.3 247.9 L603.8 250.3 L605.0 253.2 L617.3 253.2 L617.3 278.3 L604.6 287.5 L603.2 285.3 L604.6 282.5 L603.2 280.4 L605.3 279.3 L607.5 277.6 L609.2 275.8 L609.6 273.3 L608.2 271.6 L608.5 270.9 L607.8 267.0 L605.3 263.5 L602.5 259.9 L599.7 257.8 L597.4 253.8Z" fill="#085396" stroke="#41566b" stroke-opacity="0.6" stroke-width="0.4"/>
<path d="M597.6 273.3 L599.0 271.6 L601.8 270.5 L603.9 270.9 L606.1 271.2 L608.2 271.6 L609.6 273.3 L609.2 275.8 L607.5 277.6 L605.3 279.3 L603.2 280.4 L601.8 281.5 L598.3 278.6 L596.5 275.8Z" fill="#085396" stroke="#41566b" stroke-opacity="0.6" stroke-width="0.4"/>
<path d="M440.3 233.8 L442.1 231.8 L446.8 228.5 L445.3 226.5 L449.1 223.8 L449.7 224.1 L454.4 227.1 L457.9 230.0 L462.1 232.6 L466.2 232.6 L469.4 234.4 L470.6 234.4 L475.3 240.3 L477.6 243.8 L478.8 245.0 L481.2 247.9 L487.6 250.3 L488.2 253.2 L484.1 258.5 L481.2 259.7 L476.5 259.7 L470.6 263.2 L467.1 262.6 L461.8 263.8 L460.6 265.0 L457.6 266.2 L437.6 234.4Z" fill="#083f7f" stroke="#41566b" stroke-opacity="0.6" stroke-width="0.4"/>
<path d="M478.0 240.3 L480.2 240.9 L480.2 244.8 L478.5 244.8Z" fill="url(#h)" stroke="#cbcbcb" stroke-width="0.6"/>
<path d="M460.6 265.0 L461.8 263.8 L467.1 262.6 L470.6 263.2 L476.5 259.7 L481.2 259.7 L484.1 263.8 L483.5 265.6 L483.5 270.9 L462.4 277.9 L458.8 270.9Z" fill="#2b8cbe" stroke="#41566b" stroke-opacity="0.6" stroke-width="0.4"/>
<path d="M453.2 211.5 L456.2 210.9 L459.1 211.5 L460.3 213.2 L462.6 215.6 L463.2 219.7 L466.2 222.6 L468.5 225.6 L469.4 229.7 L467.4 230.9 L466.2 232.4 L462.1 232.4 L457.9 229.7 L454.4 226.8 L449.7 223.8 L448.5 221.2 L452.4 218.8 L452.6 215.3Z" fill="#083f7f" stroke="#41566b" stroke-opacity="0.6" stroke-width="0.4"/>
<path d="M441.5 215.0 L443.2 212.6 L448.5 212.4 L453.2 211.5 L452.6 215.3 L452.4 218.8 L448.5 220.9 L444.4 223.2 L442.1 222.6 L442.4 219.7 L441.8 217.4 L440.6 217.4 L440.6 215.0Z" fill="#085396" stroke="#41566b" stroke-opacity="0.6" stroke-width="0.4"/>
<path d="M440.0 223.8 L441.0 223.7 L441.2 226.5 L440.2 226.6Z" fill="#083f7f" stroke="#41566b" stroke-opacity="0.6" stroke-width="0.4"/>
<path d="M446.4 195.2 L449.2 194.9 L453.4 196.6 L457.6 198.1 L461.2 200.2 L464.0 200.5 L465.4 199.8 L467.5 201.9 L470.3 203.3 L468.9 206.2 L467.2 207.9 L465.8 206.2 L464.3 205.5 L461.9 207.2 L460.1 206.2 L458.0 203.7 L455.9 201.6 L452.7 199.1 L449.9 197.0 L445.6 196.3Z" fill="#083f7f" stroke="#41566b" stroke-opacity="0.6" stroke-width="0.4"/>
<path d="M408.2 179.7 L411.2 174.4 L417.6 174.4 L423.5 175.0 L424.7 173.2 L429.4 172.6 L432.9 176.2 L437.6 177.9 L443.5 180.3 L444.1 183.8 L440.6 186.2 L436.5 186.8 L438.2 190.3 L434.1 192.6 L432.4 189.7 L429.4 187.9 L426.5 187.4 L423.5 190.3 L421.8 189.1 L423.5 186.2 L420.6 183.8 L415.3 182.6 L410.6 183.2Z" fill="#083f7f" stroke="#41566b" stroke-opacity="0.6" stroke-width="0.4"/>
<path d="M402.0 195.6 L404.1 195.0 L405.3 196.8 L403.2 198.5Z" fill="#083f7f" stroke="#41566b" stroke-opacity="0.6" stroke-width="0.4"/>
<path d="M406.2 198.5 L409.4 197.9 L411.4 199.7 L409.8 201.8 L406.7 201.1Z" fill="#083f7f" stroke="#41566b" stroke-opacity="0.6" stroke-width="0.4"/>
</g>
<polyline points="366.5,277.9 366.1,293.2" fill="none" stroke="#41566b" stroke-opacity="0.55" stroke-width="0.4"/>
<polyline points="432.9,299.1 431.8,310.9 430.0,314.4 431.2,320.3 431.8,326.2 428.2,330.9 427.1,334.4 430.0,336.2 437.6,332.6" fill="none" stroke="#41566b" stroke-opacity="0.55" stroke-width="0.4"/>
<polyline points="442.9,337.4 455.3,335.6" fill="none" stroke="#41566b" stroke-opacity="0.55" stroke-width="0.4"/>
<polyline points="437.6,332.6 439.4,335.6 442.9,337.4" fill="none" stroke="#41566b" stroke-opacity="0.55" stroke-width="0.4"/>
<polyline points="438.8,333.2 441.2,336.8 442.9,342.6 444.1,350.3 441.8,350.9 441.2,345.0 439.4,339.1 438.2,335.6" fill="none" stroke="#41566b" stroke-opacity="0.55" stroke-width="0.4"/>
<polyline points="417.6,337.4 423.5,339.1 428.2,340.3 429.4,343.2 431.2,341.5 428.8,337.9 428.2,332.1 431.8,330.3 437.6,332.6" fill="none" stroke="#41566b" stroke-opacity="0.55" stroke-width="0.4"/>
<polyline points="437.1,351.5 441.2,348.5 441.8,350.9" fill="none" stroke="#41566b" stroke-opacity="0.55" stroke-width="0.4"/>
<polyline points="431.2,316.5 431.5,320.9 434.7,320.3 434.4,316.2" fill="none" stroke="#41566b" stroke-opacity="0.55" stroke-width="0.4"/>
<polyline points="350.0,266.8 354.1,275.0" fill="none" stroke="#41566b" stroke-opacity="0.55" stroke-width="0.4"/>
<polyline points="336.5,274.4 343.5,280.3 351.2,280.3" fill="none" stroke="#41566b" stroke-opacity="0.55" stroke-width="0.4"/>
<polyline points="409.4,354.4 410.0,363.8 407.6,365.0 408.0,376.8 406.5,383.8 401.2,382.6" fill="none" stroke="#41566b" stroke-opacity="0.55" stroke-width="0.4"/>
<polyline points="410.0,376.8 414.1,374.4 418.2,375.6 421.2,372.1 426.5,367.4 431.8,366.2" fill="none" stroke="#41566b" stroke-opacity="0.55" stroke-width="0.4"/>
<polyline points="325.3,273.5 328.2,273.0 332.9,273.2 333.2,273.9 328.2,273.9 325.3,274.4" fill="none" stroke="#41566b" stroke-opacity="0.55" stroke-width="0.4"/>
<path d="M171.2 251.2 L175.3 248.5 L180.6 248.2 L185.9 250.6 L190.6 253.5 L194.7 254.7 L193.5 256.2 L189.4 255.9 L186.5 254.1 L182.4 251.2 L177.6 250.0 L173.5 251.2Z" fill="#083f7f" stroke="#083f7f" stroke-width="0.6"/>
<path d="M185.0 260.6 L187.6 260.0 L190.0 261.2 L187.6 262.4 L185.4 261.8Z" fill="#0868ac" stroke="#0868ac" stroke-width="0.6"/>
<path d="M193.5 260.4 L196.0 259.6 L197.0 256.5 L200.0 257.0 L200.6 262.6 L197.6 261.4 L194.0 261.6Z" fill="#ccebc5" stroke="#41566b" stroke-opacity="0.55" stroke-width="0.45"/>
<path d="M200.0 257.0 L203.5 256.5 L207.6 259.4 L205.9 260.6 L202.4 261.2 L200.6 262.6Z" fill="#7bccc4" stroke="#41566b" stroke-opacity="0.55" stroke-width="0.45"/>
<path d="M221.2 280.6 L223.3 280.4 L223.3 282.6 L221.2 282.6Z" fill="#085396" stroke="#085396" stroke-width="0.6"/>
<path d="M476.5 340.3 L478.2 343.8 L477.1 352.1 L474.1 360.3 L471.2 368.5 L468.2 374.4 L464.7 375.6 L461.2 372.6 L460.6 366.2 L462.9 359.1 L464.1 353.2 L470.6 348.5 L474.1 342.6Z" fill="#ccebc5" stroke="#41566b" stroke-opacity="0.55" stroke-width="0.45"/>
<path d="M547.1 282.9 L548.8 284.1 L550.6 287.1 L551.2 290.6 L549.4 292.7 L547.4 291.8 L546.5 287.1Z" fill="#085396" stroke="#085396" stroke-width="0.6"/>
<path d="M609.7 256.8 L612.6 255.8 L614.4 257.9 L612.6 260.3 L610.3 259.7Z" fill="#083f7f" stroke="#083f7f" stroke-width="0.6"/>
<path d="M636.9 260.2 L640.8 260.6 L641.9 264.1 L640.8 267.6 L640.5 270.1 L643.3 271.2 L646.1 272.6 L647.2 274.7 L648.9 275.8 L651.1 277.5 L651.4 279.6 L649.6 278.9 L648.2 277.2 L646.1 275.4 L644.0 273.6 L641.2 272.6 L639.4 271.5 L637.6 269.8 L636.2 266.9 L637.3 264.1Z" fill="#083f7f" stroke="#083f7f" stroke-width="0.6"/>
<path d="M638.7 273.3 L640.5 274.0 L641.2 276.1 L640.1 275.8Z" fill="#083f7f" stroke="#083f7f" stroke-width="0.6"/>
<path d="M642.6 277.9 L644.3 278.2 L645.8 280.3 L646.8 281.4 L646.5 283.9 L645.1 284.6 L644.3 282.1 L643.3 280.3Z" fill="#083f7f" stroke="#083f7f" stroke-width="0.6"/>
<path d="M648.2 278.2 L650.0 278.6 L651.1 281.1 L650.0 281.8 L648.9 280.3Z" fill="#083f7f" stroke="#083f7f" stroke-width="0.6"/>
<path d="M646.8 281.1 L647.9 280.3 L648.2 282.5 L647.2 283.2Z" fill="#083f7f" stroke="#083f7f" stroke-width="0.6"/>
<path d="M632.4 286.7 L637.3 279.3 L638.0 280.0 L633.1 287.1Z" fill="#083f7f" stroke="#083f7f" stroke-width="0.6"/>
<path d="M643.6 289.5 L644.7 287.4 L647.5 286.3 L649.6 285.3 L651.8 283.2 L653.2 284.6 L653.9 288.1 L653.5 292.0 L651.9 293.8 L649.0 291.0 L647.0 292.5 L645.5 290.6Z" fill="#083f7f" stroke="#083f7f" stroke-width="0.6"/>
<path d="M582.4 294.1 L587.6 294.8 L594.0 301.2 L600.4 306.8 L603.2 312.5 L607.4 316.7 L606.7 322.4 L603.9 322.4 L598.2 316.7 L593.3 309.6 L589.8 302.6 L585.5 297.6Z" fill="#0868ac" stroke="#0868ac" stroke-width="0.6"/>
<path d="M605.6 325.0 L608.5 323.8 L613.2 325.3 L618.8 325.9 L623.5 327.8 L628.7 330.2 L627.3 331.3 L622.6 330.6 L616.9 329.2 L611.3 328.3 L607.5 327.4Z" fill="#0868ac" stroke="#0868ac" stroke-width="0.6"/>
<path d="M631.5 331.1 L635.3 330.0 L636.2 330.9 L632.5 332.1Z" fill="#0868ac" stroke="#0868ac" stroke-width="0.6"/>
<path d="M638.6 330.6 L645.2 329.7 L645.6 330.6 L640.0 331.8Z" fill="#0868ac" stroke="#0868ac" stroke-width="0.6"/>
<path d="M636.2 333.0 L639.1 333.2 L640.5 334.9 L638.1 334.7Z" fill="#0868ac" stroke="#0868ac" stroke-width="0.6"/>
<path d="M646.1 334.9 L648.9 332.5 L651.3 331.1 L652.7 331.3 L651.3 333.0 L648.5 335.4Z" fill="#0868ac" stroke="#0868ac" stroke-width="0.6"/>
<path d="M614.6 305.2 L616.5 303.4 L618.4 305.7 L622.6 304.3 L627.3 301.9 L630.1 297.7 L633.4 297.2 L634.4 300.5 L635.3 303.8 L636.7 305.7 L634.4 308.1 L633.4 312.3 L632.0 317.0 L628.2 318.4 L624.0 317.0 L620.2 316.5 L617.4 315.1 L615.5 311.4 L614.1 307.6Z" fill="#0868ac" stroke="#0868ac" stroke-width="0.6"/>
<path d="M640.0 306.6 L641.9 305.2 L647.1 305.2 L650.4 304.3 L651.8 304.3 L651.6 305.9 L648.9 307.6 L645.2 307.6 L642.4 308.1 L641.4 309.9 L644.2 310.9 L647.5 309.9 L648.0 310.9 L644.7 312.3 L643.8 313.7 L645.2 316.5 L646.6 320.3 L646.1 322.6 L644.2 322.2 L642.8 317.5 L641.9 315.1 L641.2 317.5 L640.9 322.2 L638.6 322.6 L638.1 317.9 L637.2 315.1 L638.1 311.4Z" fill="#0868ac" stroke="#0868ac" stroke-width="0.6"/>
<path d="M656.9 303.4 L658.8 302.9 L659.8 305.2 L659.3 308.5 L658.4 310.4 L657.2 308.1Z" fill="#0868ac" stroke="#0868ac" stroke-width="0.6"/>
<path d="M653.2 317.0 L655.5 316.5 L656.5 317.5 L654.1 318.1Z" fill="#0868ac" stroke="#0868ac" stroke-width="0.6"/>
<path d="M657.9 316.1 L661.2 315.9 L664.0 317.0 L664.5 318.1 L661.2 317.5 L658.4 317.2Z" fill="#0868ac" stroke="#0868ac" stroke-width="0.6"/>
<path d="M664.5 311.4 L668.2 309.7 L671.5 309.9 L672.9 312.3 L672.5 315.1 L674.4 316.5 L678.1 314.2 L680.0 313.2 L688.0 315.1 L687.3 332.0 L682.9 328.7 L679.4 330.1 L681.5 326.6 L671.5 318.4 L669.6 318.9 L668.7 316.1 L667.8 313.2Z" fill="#0868ac" stroke="#0868ac" stroke-width="0.6"/>
<path d="M672.0 323.1 L673.4 322.6 L672.9 325.5 L671.7 325.9Z" fill="#0868ac" stroke="#0868ac" stroke-width="0.6"/>
<path d="M688.0 315.1 L692.9 317.1 L697.6 320.0 L701.2 324.1 L703.5 325.9 L700.6 327.6 L702.9 331.2 L706.5 334.1 L709.4 335.9 L708.2 336.7 L703.5 334.7 L700.0 332.4 L696.5 328.8 L692.9 329.4 L691.2 332.4 L687.3 332.0Z" fill="#a8ddb5" stroke="#41566b" stroke-opacity="0.55" stroke-width="0.45"/>
<path d="M704.1 322.9 L708.2 321.8 L711.2 318.8 L712.9 317.6 L710.6 315.3 L712.4 315.1 L715.9 318.2 L715.3 320.6 L712.4 323.5 L708.2 324.9 L705.3 324.1Z" fill="#a8ddb5" stroke="#41566b" stroke-opacity="0.55" stroke-width="0.45"/>
<path d="M718.8 321.8 L720.0 322.4 L721.8 325.9 L720.6 326.5 L719.1 323.5Z" fill="#a8ddb5" stroke="#41566b" stroke-opacity="0.55" stroke-width="0.45"/>
<path d="M743.5 346.5 L744.5 347.1 L745.3 351.2 L744.1 351.8 L743.3 348.8Z" fill="#7bccc4" stroke="#41566b" stroke-opacity="0.55" stroke-width="0.45"/>
<path d="M766.5 354.4 L768.8 353.5 L769.6 355.1 L767.6 356.2 L766.1 355.9Z" fill="#083f7f" stroke="#083f7f" stroke-width="0.6"/>
<path d="M770.0 351.8 L773.5 350.0 L773.9 350.8 L770.8 352.7Z" fill="#083f7f" stroke="#083f7f" stroke-width="0.6"/>
<path d="M305.0 263.2 L306.2 263.4 L306.3 264.7 L305.1 264.6Z" fill="#9db4c6" stroke="#9db4c6" stroke-width="0.6"/>
<path d="M307.0 265.0 L308.0 265.1 L308.0 266.0 L307.0 266.0Z" fill="#9db4c6" stroke="#9db4c6" stroke-width="0.6"/>
<path d="M310.0 266.0 L311.8 266.0 L311.8 266.9 L310.0 266.9Z" fill="#9db4c6" stroke="#9db4c6" stroke-width="0.6"/>
<path d="M307.0 268.6 L310.3 268.2 L310.3 269.4 L307.0 269.7Z" fill="#9db4c6" stroke="#9db4c6" stroke-width="0.6"/>
<path d="M377.8 307.4 L378.8 307.4 L378.8 308.8 L377.8 308.8Z" fill="#7bccc4" stroke="#7bccc4" stroke-width="0.6"/>
<path d="M461.0 342.0 L462.6 342.3 L462.6 343.4 L461.0 343.4Z" fill="#9db" stroke="#9db" stroke-width="0.6"/>
</g>
<g id="legend">
<rect x="98.5" y="517.3" width="48" height="10.7" fill="url(#h)" stroke="#ccc" stroke-width="1"/>
<text x="122.5" y="510" text-anchor="middle">No data</text>
<line x1="122.5" y1="514.5" x2="122.5" y2="517" stroke="#bbb" stroke-width="1"/>
<rect x="166.0" y="517.2" width="58.7" height="10.8" fill="#f7fcf0"/>
<rect x="224.5" y="517.2" width="58.7" height="10.8" fill="#e0f3db"/>
<rect x="283.0" y="517.2" width="58.7" height="10.8" fill="#ccebc5"/>
<rect x="341.5" y="517.2" width="58.7" height="10.8" fill="#a8ddb5"/>
<rect x="400.0" y="517.2" width="58.7" height="10.8" fill="#7bccc4"/>
<rect x="458.5" y="517.2" width="58.7" height="10.8" fill="#4eb3d3"/>
<rect x="517.0" y="517.2" width="58.7" height="10.8" fill="#2b8cbe"/>
<rect x="575.5" y="517.2" width="58.7" height="10.8" fill="#0868ac"/>
<rect x="634.0" y="517.2" width="58.7" height="10.8" fill="#085396"/>
<rect x="692.5" y="517.2" width="58.7" height="10.8" fill="#083f7f"/>
<rect x="166" y="517.2" width="234.0" height="10.8" fill="none" stroke="#c4c4c4" stroke-width="0.6"/>
<line x1="166.0" y1="513.5" x2="166.0" y2="517.2" stroke="#c4c4c4" stroke-width="1"/>
<line x1="166.0" y1="517.2" x2="166.0" y2="528" stroke="#000" stroke-opacity="0.28" stroke-width="0.9"/>
<line x1="224.5" y1="513.5" x2="224.5" y2="517.2" stroke="#c4c4c4" stroke-width="1"/>
<line x1="224.5" y1="517.2" x2="224.5" y2="528" stroke="#000" stroke-opacity="0.28" stroke-width="0.9"/>
<line x1="283.0" y1="513.5" x2="283.0" y2="517.2" stroke="#c4c4c4" stroke-width="1"/>
<line x1="283.0" y1="517.2" x2="283.0" y2="528" stroke="#000" stroke-opacity="0.28" stroke-width="0.9"/>
<line x1="341.5" y1="513.5" x2="341.5" y2="517.2" stroke="#c4c4c4" stroke-width="1"/>
<line x1="341.5" y1="517.2" x2="341.5" y2="528" stroke="#000" stroke-opacity="0.28" stroke-width="0.9"/>
<line x1="400.0" y1="513.5" x2="400.0" y2="517.2" stroke="#c4c4c4" stroke-width="1"/>
<line x1="400.0" y1="517.2" x2="400.0" y2="528" stroke="#000" stroke-opacity="0.28" stroke-width="0.9"/>
<line x1="458.5" y1="513.5" x2="458.5" y2="517.2" stroke="#c4c4c4" stroke-width="1"/>
<line x1="458.5" y1="517.2" x2="458.5" y2="528" stroke="#000" stroke-opacity="0.28" stroke-width="0.9"/>
<line x1="517.0" y1="513.5" x2="517.0" y2="517.2" stroke="#c4c4c4" stroke-width="1"/>
<line x1="517.0" y1="517.2" x2="517.0" y2="528" stroke="#000" stroke-opacity="0.28" stroke-width="0.9"/>
<line x1="575.5" y1="513.5" x2="575.5" y2="517.2" stroke="#c4c4c4" stroke-width="1"/>
<line x1="575.5" y1="517.2" x2="575.5" y2="528" stroke="#000" stroke-opacity="0.28" stroke-width="0.9"/>
<line x1="634.0" y1="513.5" x2="634.0" y2="517.2" stroke="#c4c4c4" stroke-width="1"/>
<line x1="634.0" y1="517.2" x2="634.0" y2="528" stroke="#000" stroke-opacity="0.28" stroke-width="0.9"/>
<line x1="692.5" y1="513.5" x2="692.5" y2="517.2" stroke="#c4c4c4" stroke-width="1"/>
<line x1="692.5" y1="517.2" x2="692.5" y2="528" stroke="#000" stroke-opacity="0.28" stroke-width="0.9"/>
<line x1="751.0" y1="513.5" x2="751.0" y2="517.2" stroke="#c4c4c4" stroke-width="1"/>
<line x1="751.0" y1="517.2" x2="751.0" y2="528" stroke="#000" stroke-opacity="0.28" stroke-width="0.9"/>
<g text-anchor="middle">
<text x="166.0" y="510">0%</text>
<text x="224.5" y="510">10%</text>
<text x="283.0" y="510">20%</text>
<text x="341.5" y="510">30%</text>
<text x="400.0" y="510">40%</text>
<text x="458.5" y="510">50%</text>
<text x="517.0" y="510">60%</text>
<text x="575.5" y="510">70%</text>
<text x="634.0" y="510">80%</text>
<text x="692.5" y="510">90%</text>
<text x="751.0" y="510">100%</text>
</g></g>
</svg>
</body></html>
